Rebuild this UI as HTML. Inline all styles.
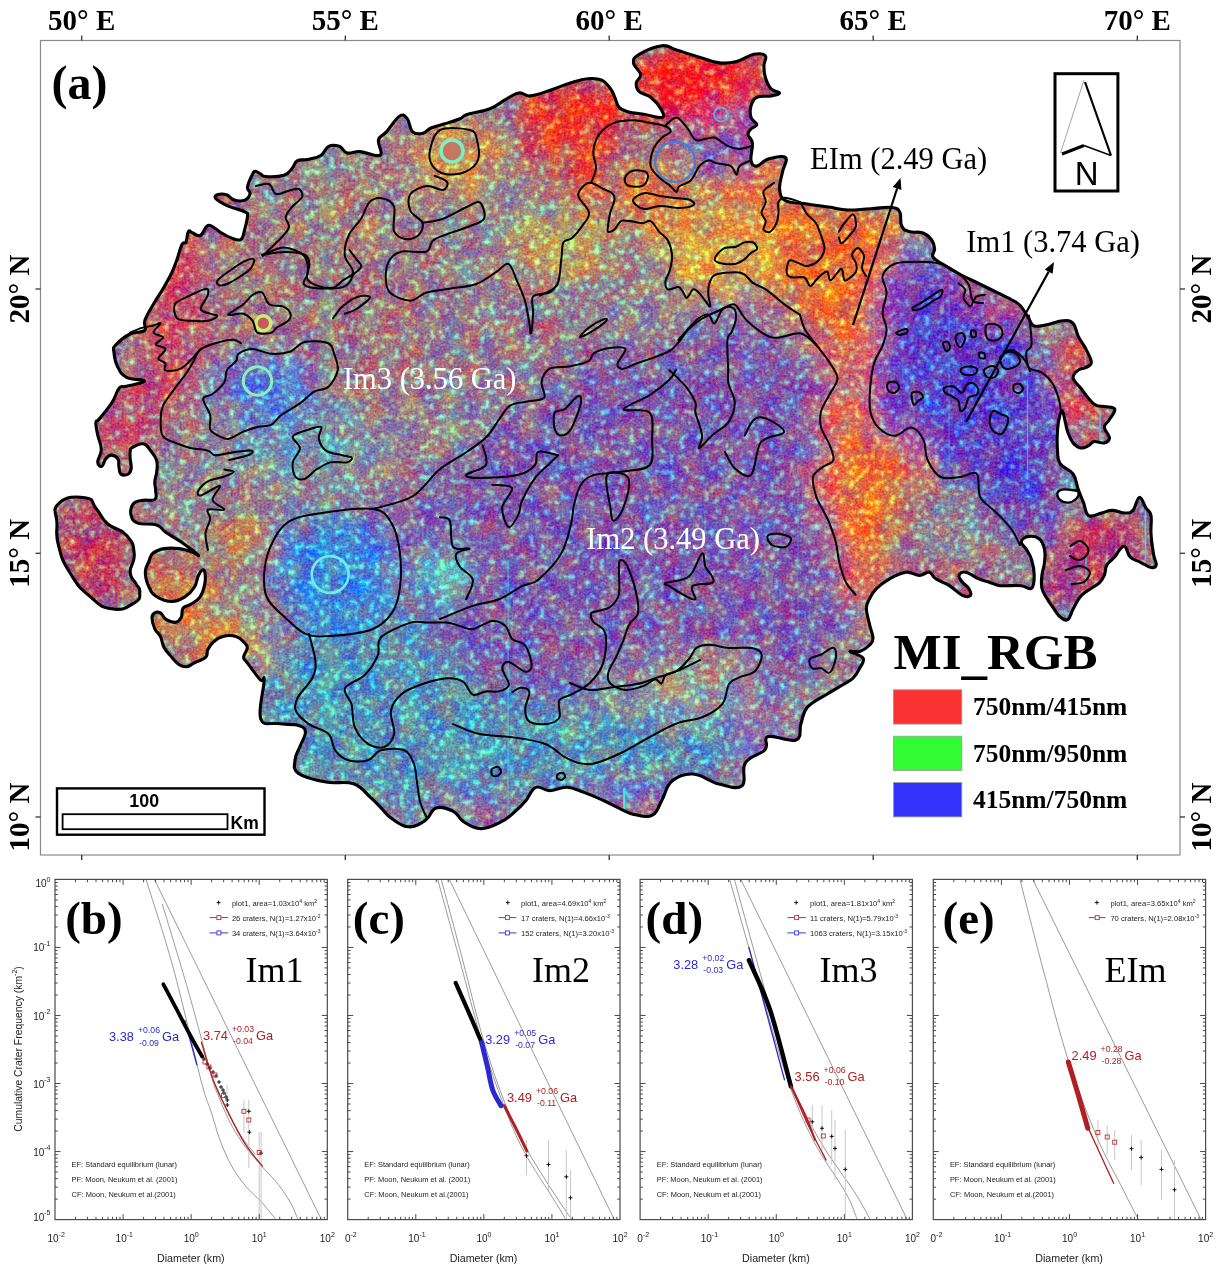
<!DOCTYPE html>
<html><head><meta charset="utf-8"><title>MI RGB map and crater counts</title>
<style>
html,body{margin:0;padding:0;background:#fff;}
body{width:1221px;height:1271px;overflow:hidden;}
svg{display:block;}
.serif{font-family:"Liberation Serif","Times New Roman",serif;}
.sans{font-family:"Liberation Sans",Arial,sans-serif;}
</style></head><body>
<svg width="1221" height="1271" viewBox="0 0 1221 1271">

<defs>
<clipPath id="mare"><path d="M145.0,320.0 C147.0,314.3 151.2,308.0 154.7,302.0 C158.2,296.0 159.0,295.7 162.3,290.0 C165.6,284.3 168.5,279.4 171.4,273.5 C174.3,267.6 174.6,266.2 176.7,260.4 C178.8,254.6 180.1,248.3 181.9,244.6 C183.7,240.9 184.6,244.6 185.9,242.0 C187.2,239.4 187.2,233.3 188.5,231.5 C189.8,229.7 190.0,232.0 192.4,232.8 C194.8,233.6 197.4,236.8 200.3,235.5 C203.2,234.2 204.4,228.1 206.8,226.3 C209.2,224.5 209.2,225.0 212.1,226.3 C215.0,227.6 217.3,230.4 221.2,232.8 C225.1,235.2 227.8,236.8 231.7,238.1 C235.6,239.4 238.3,241.2 240.9,239.4 C243.5,237.6 243.5,233.6 244.8,228.9 C246.1,224.2 247.5,219.2 247.5,215.8 C247.5,212.4 249.0,214.0 244.8,211.9 C240.6,209.8 232.3,207.9 226.5,205.3 C220.7,202.7 217.8,200.9 216.0,198.8 C214.2,196.7 215.2,195.6 217.3,194.8 C219.4,194.0 223.1,193.7 226.5,194.8 C229.9,195.9 230.6,199.0 234.3,200.1 C238.0,201.2 241.6,201.4 244.8,200.1 C248.0,198.8 249.6,196.1 250.1,193.5 C250.6,190.9 247.0,190.9 247.5,187.0 C248.0,183.1 251.1,177.1 252.7,173.9 C254.3,170.7 253.7,171.2 255.3,171.2 C256.9,171.2 258.5,172.8 260.6,173.9 C262.7,175.0 261.1,176.2 265.8,176.5 C270.5,176.8 278.9,176.8 284.1,175.2 C289.3,173.6 289.4,171.5 292.0,168.6 C294.6,165.7 294.1,162.6 297.2,160.8 C300.3,159.0 303.0,160.6 307.7,159.5 C312.4,158.4 316.6,158.1 320.8,155.5 C325.0,152.9 325.0,148.1 328.7,146.3 C332.4,144.5 335.5,145.0 339.2,146.3 C342.9,147.6 342.8,151.8 347.0,152.9 C351.2,154.0 354.3,151.1 360.1,151.6 C365.9,152.1 371.7,155.2 375.9,155.5 C380.1,155.8 380.6,156.0 381.1,152.9 C381.6,149.8 377.4,144.0 378.5,139.8 C379.6,135.6 382.2,136.6 386.4,131.9 C390.6,127.2 395.3,118.8 399.5,116.2 C403.7,113.6 404.7,115.7 407.3,118.8 C409.9,121.9 409.5,129.0 412.6,131.9 C415.7,134.8 419.3,134.0 423.0,133.2 C426.7,132.4 426.7,129.8 430.9,128.0 C435.1,126.2 438.2,125.9 444.0,124.1 C449.8,122.3 455.4,120.7 460.0,118.8 C464.6,116.9 461.2,116.5 467.2,114.5 C473.2,112.5 482.6,111.7 490.1,108.8 C497.6,105.9 498.8,103.4 504.5,100.2 C510.2,97.0 513.6,93.9 518.8,93.0 C524.0,92.1 524.0,96.5 530.3,95.9 C536.6,95.3 542.3,92.8 550.3,90.2 C558.3,87.6 562.9,85.3 570.4,83.0 C577.9,80.7 581.3,79.3 587.6,78.7 C593.9,78.1 597.3,78.1 601.9,80.1 C606.5,82.1 607.9,85.3 610.5,88.7 C613.1,92.1 613.1,93.6 614.8,97.3 C616.5,101.0 616.5,104.5 619.1,107.4 C621.7,110.3 622.5,110.3 627.7,111.7 C632.9,113.1 638.0,113.4 644.9,114.5 C651.8,115.6 658.9,118.5 662.1,117.4 C665.3,116.3 663.0,112.8 660.7,108.8 C658.4,104.8 655.0,100.7 650.7,97.3 C646.4,93.9 642.1,94.5 639.2,91.6 C636.3,88.7 636.0,86.4 636.3,83.0 C636.6,79.6 641.2,78.4 640.6,74.4 C640.0,70.4 633.8,66.9 633.5,62.9 C633.2,58.9 633.5,57.7 639.2,54.3 C644.9,50.9 654.6,46.6 662.1,45.7 C669.6,44.8 669.0,47.7 676.5,50.0 C684.0,52.3 690.8,54.6 699.4,57.2 C708.0,59.8 712.0,62.0 719.4,62.9 C726.8,63.8 729.7,63.2 736.6,61.5 C743.5,59.8 748.1,55.4 753.8,54.3 C759.5,53.2 763.3,53.5 765.3,55.8 C767.3,58.1 763.9,61.5 763.9,65.8 C763.9,70.1 763.9,72.7 765.3,77.3 C766.7,81.9 768.1,85.6 771.0,88.7 C773.9,91.8 779.6,91.6 779.6,93.0 C779.6,94.4 775.6,95.0 771.0,95.9 C766.4,96.8 760.7,95.3 756.7,97.3 C752.7,99.3 752.1,101.9 751.0,105.9 C749.9,109.9 749.9,113.7 751.0,117.4 C752.1,121.1 756.7,122.3 756.7,124.6 C756.7,126.9 752.7,126.9 751.0,128.9 C749.3,130.9 747.8,131.7 748.1,134.6 C748.4,137.5 751.8,138.0 752.4,143.2 C753.0,148.4 750.1,155.8 751.0,160.4 C751.9,165.0 753.3,166.4 756.7,166.1 C760.1,165.8 762.5,160.7 768.2,159.0 C773.9,157.3 782.5,154.9 785.4,157.5 C788.3,160.1 783.7,165.6 782.5,171.9 C781.3,178.2 779.0,183.3 779.6,189.0 C780.2,194.7 780.2,197.5 785.4,200.5 C790.6,203.5 796.9,202.5 805.5,203.8 C814.1,205.1 820.0,205.8 828.5,207.0 C837.0,208.2 839.5,209.7 848.0,210.0 C856.5,210.3 861.2,209.0 871.0,208.7 C880.8,208.4 890.9,205.3 897.0,208.7 C903.1,212.1 899.2,221.1 901.6,225.7 C904.0,230.3 904.5,230.0 908.8,231.5 C913.1,233.0 918.4,231.3 923.0,233.0 C927.6,234.7 929.4,236.9 931.7,240.0 C934.0,243.1 934.3,245.3 934.6,248.7 C934.9,252.1 931.3,253.9 933.0,257.0 C934.7,260.1 937.5,260.9 943.0,264.4 C948.5,267.9 953.5,270.8 960.4,274.5 C967.3,278.2 971.3,279.9 977.6,283.0 C983.9,286.1 985.1,286.6 992.0,290.0 C998.9,293.4 1006.3,296.8 1012.0,300.0 C1017.7,303.2 1017.2,302.2 1020.6,306.0 C1024.0,309.8 1026.3,315.0 1029.0,319.0 C1031.7,323.0 1030.6,324.9 1034.2,326.0 C1037.8,327.1 1041.4,325.7 1047.1,324.7 C1052.8,323.7 1057.5,321.1 1062.7,320.8 C1067.9,320.5 1070.0,320.3 1073.1,323.4 C1076.2,326.5 1075.7,331.2 1078.3,336.4 C1080.9,341.6 1083.5,344.2 1086.1,349.4 C1088.7,354.6 1091.3,358.7 1091.3,362.3 C1091.3,365.9 1088.7,365.9 1086.1,367.5 C1083.5,369.1 1080.9,368.0 1078.3,370.1 C1075.7,372.2 1072.6,374.3 1073.1,377.9 C1073.6,381.5 1076.7,383.1 1080.9,388.3 C1085.1,393.5 1089.2,400.3 1093.9,403.9 C1098.6,407.5 1100.1,405.5 1104.3,406.5 C1108.5,407.5 1113.7,406.5 1114.7,409.1 C1115.7,411.7 1111.6,415.9 1109.5,419.5 C1107.4,423.1 1104.3,423.7 1104.3,427.3 C1104.3,430.9 1109.5,434.6 1109.5,437.7 C1109.5,440.8 1107.4,442.1 1104.3,442.9 C1101.2,443.7 1097.0,441.1 1093.9,441.6 C1090.8,442.1 1091.3,444.2 1088.7,445.5 C1086.1,446.8 1084.0,448.5 1080.9,448.0 C1077.8,447.5 1075.7,446.0 1073.1,442.9 C1070.5,439.8 1069.5,436.7 1067.9,432.5 C1066.3,428.3 1066.3,426.3 1065.3,422.1 C1064.3,417.9 1063.7,413.3 1062.7,411.7 C1061.7,410.1 1061.1,410.7 1060.1,414.3 C1059.1,417.9 1058.0,422.6 1057.5,429.9 C1057.0,437.2 1057.0,443.9 1057.5,450.6 C1058.0,457.3 1057.0,458.9 1060.1,463.6 C1063.2,468.3 1069.5,468.8 1073.1,474.0 C1076.7,479.2 1076.2,483.9 1078.3,489.6 C1080.4,495.3 1081.4,497.4 1083.5,502.6 C1085.6,507.8 1085.1,513.5 1088.7,515.6 C1092.3,517.7 1097.0,514.0 1101.7,513.0 C1106.4,512.0 1107.4,510.4 1112.1,510.4 C1116.8,510.4 1120.9,513.0 1125.1,513.0 C1129.3,513.0 1130.0,513.5 1132.9,510.4 C1135.8,507.3 1136.8,497.9 1139.4,497.4 C1142.0,496.9 1143.5,504.2 1145.8,507.8 C1148.1,511.4 1150.0,510.4 1151.0,515.6 C1152.0,520.8 1150.5,526.0 1151.0,533.8 C1151.5,541.6 1152.6,548.3 1153.6,554.5 C1154.6,560.7 1156.7,562.3 1156.2,564.9 C1155.7,567.5 1154.1,568.0 1151.0,567.5 C1147.9,567.0 1144.7,564.4 1140.6,562.3 C1136.5,560.2 1133.4,560.2 1130.3,557.1 C1127.2,554.0 1127.2,548.3 1125.1,546.8 C1123.0,545.3 1122.0,547.3 1119.9,549.4 C1117.8,551.5 1117.3,554.0 1114.7,557.1 C1112.1,560.2 1109.0,561.3 1106.9,564.9 C1104.8,568.5 1105.9,571.7 1104.3,575.3 C1102.7,578.9 1101.7,580.5 1099.1,583.1 C1096.5,585.7 1094.9,585.7 1091.3,588.3 C1087.7,590.9 1084.5,591.9 1080.9,596.1 C1077.3,600.3 1075.7,604.4 1073.1,609.1 C1070.5,613.8 1070.5,617.9 1067.9,619.5 C1065.3,621.1 1063.2,619.5 1060.1,616.9 C1057.0,614.3 1054.9,610.1 1052.3,606.5 C1049.7,602.9 1049.2,602.3 1047.1,598.7 C1045.0,595.1 1042.9,593.0 1041.9,588.3 C1040.9,583.6 1041.4,580.5 1041.9,575.3 C1042.4,570.1 1044.0,567.5 1044.5,562.3 C1045.0,557.1 1045.5,554.1 1044.5,549.4 C1043.5,544.7 1042.5,541.6 1039.4,539.0 C1036.3,536.4 1032.6,535.9 1029.0,536.4 C1025.4,536.9 1021.7,539.0 1021.2,541.6 C1020.7,544.2 1024.3,545.8 1026.4,549.4 C1028.5,553.0 1030.0,554.5 1031.6,559.7 C1033.2,564.9 1034.2,569.6 1034.2,575.3 C1034.2,581.0 1034.2,586.2 1031.6,588.3 C1029.0,590.4 1026.4,586.2 1021.2,585.7 C1016.0,585.2 1010.1,585.8 1005.6,585.7 C1001.1,585.6 1002.0,586.1 998.6,585.4 C995.2,584.7 992.7,583.3 988.7,582.0 C984.7,580.7 983.4,580.8 978.8,578.8 C974.2,576.8 969.6,572.9 965.6,572.2 C961.6,571.5 959.7,573.5 959.0,575.5 C958.3,577.5 960.3,579.4 962.3,582.0 C964.3,584.6 967.3,586.0 968.9,588.7 C970.5,591.4 971.8,594.0 970.5,595.3 C969.2,596.6 966.6,597.3 962.3,595.3 C958.0,593.3 954.3,588.7 949.0,585.4 C943.7,582.1 939.8,581.4 935.8,578.8 C931.8,576.2 932.5,572.9 929.2,572.2 C925.9,571.5 923.9,575.5 919.3,575.5 C914.7,575.5 911.9,571.5 906.0,572.2 C900.1,572.9 895.5,575.5 889.6,578.8 C883.7,582.1 880.4,584.7 876.4,588.7 C872.4,592.7 871.7,594.6 869.7,598.6 C867.7,602.6 866.4,603.2 866.4,608.5 C866.4,613.8 868.4,619.0 869.7,625.0 C871.0,631.0 873.0,634.3 873.0,638.3 C873.0,642.3 872.3,642.4 869.7,645.0 C867.1,647.6 863.7,650.2 859.8,651.5 C855.9,652.8 849.4,650.2 850.0,651.5 C850.6,652.8 861.0,654.7 863.0,658.0 C865.0,661.3 861.8,664.0 859.8,668.0 C857.8,672.0 856.5,674.7 853.2,678.0 C849.9,681.3 848.5,681.3 843.3,684.5 C838.1,687.7 834.4,689.5 827.3,694.0 C820.2,698.5 812.9,701.1 807.6,707.0 C802.3,712.9 803.3,716.9 801.0,723.5 C798.7,730.1 802.5,737.4 796.0,740.0 C789.5,742.6 774.5,734.7 768.3,736.6 C762.1,738.5 769.6,744.5 765.0,749.7 C760.4,754.9 750.0,755.6 745.4,762.8 C740.8,770.0 747.3,781.5 742.0,785.7 C736.7,789.9 728.8,786.3 719.0,784.0 C709.2,781.7 702.4,774.6 693.0,774.0 C683.6,773.4 678.2,775.8 672.0,781.0 C665.8,786.2 665.8,793.2 662.0,800.0 C658.2,806.8 658.1,811.8 652.8,814.8 C647.5,817.8 642.5,816.2 635.6,814.8 C628.7,813.4 624.6,810.7 618.4,807.9 C612.2,805.1 611.5,804.1 604.6,801.0 C597.7,797.9 591.6,795.1 584.0,792.4 C576.4,789.7 573.7,787.6 566.8,787.3 C559.9,787.0 555.8,790.7 549.6,790.7 C543.4,790.7 540.6,785.2 535.8,787.3 C531.0,789.4 529.6,796.2 525.5,801.0 C521.4,805.8 520.0,807.3 515.2,811.4 C510.4,815.5 508.3,818.3 501.4,821.7 C494.5,825.1 488.4,828.6 480.8,828.6 C473.2,828.6 469.1,825.1 463.6,821.7 C458.1,818.3 458.8,814.2 453.3,811.4 C447.8,808.6 441.6,806.2 436.1,807.9 C430.6,809.6 431.3,816.2 425.8,820.0 C420.3,823.8 415.5,827.2 408.6,826.8 C401.7,826.4 396.9,822.0 391.4,818.2 C385.9,814.4 385.1,812.0 381.0,807.9 C376.9,803.8 376.2,802.4 370.7,797.6 C365.2,792.8 362.4,786.9 353.5,783.8 C344.6,780.7 337.0,784.2 326.0,782.1 C315.0,780.0 304.7,778.0 298.5,773.5 C292.3,769.0 294.7,765.3 295.0,759.8 C295.3,754.3 298.1,751.5 300.2,746.0 C302.3,740.5 305.7,736.3 305.4,732.2 C305.1,728.1 304.0,727.1 298.5,725.4 C293.0,723.7 285.4,725.0 277.8,723.6 C270.2,722.2 263.3,727.1 260.6,718.5 C257.9,709.9 264.1,688.3 264.1,680.6 C264.1,672.9 263.9,683.5 260.5,680.0 C257.1,676.5 250.7,667.5 247.3,662.9 C243.9,658.3 243.6,660.2 243.6,657.2 C243.6,654.2 247.3,650.8 247.3,647.8 C247.3,644.8 245.9,644.3 243.6,642.0 C241.3,639.7 240.2,637.5 236.0,636.4 C231.8,635.3 227.3,635.3 222.8,636.4 C218.3,637.5 216.3,639.3 213.3,642.0 C210.3,644.7 209.2,646.7 207.7,649.7 C206.2,652.7 208.5,654.6 205.8,657.2 C203.1,659.8 198.2,661.0 194.4,662.9 C190.6,664.8 189.9,666.3 186.9,666.7 C183.9,667.1 182.3,666.7 179.3,664.8 C176.3,662.9 174.8,660.6 171.8,657.2 C168.8,653.8 166.5,652.0 164.2,647.8 C161.9,643.6 162.3,640.2 160.4,636.4 C158.5,632.6 156.5,632.7 154.8,628.9 C153.1,625.1 152.0,620.8 152.0,617.6 C152.0,614.4 153.1,613.8 154.8,612.8 C156.5,611.8 158.1,611.5 160.4,612.8 C162.7,614.1 163.1,617.5 166.1,619.4 C169.1,621.3 172.6,622.7 175.6,622.3 C178.6,621.9 179.7,620.4 181.2,617.6 C182.7,614.8 181.2,610.8 183.1,608.1 C185.0,605.4 187.3,606.6 190.7,604.3 C194.1,602.0 197.3,600.9 200.1,596.8 C202.9,592.7 203.9,588.5 204.8,583.6 C205.7,578.7 205.4,574.9 204.8,572.2 C204.2,569.5 203.3,569.5 202.0,570.3 C200.7,571.1 199.7,572.6 198.2,576.0 C196.7,579.4 197.0,583.1 194.4,587.3 C191.8,591.5 189.5,594.0 185.0,596.8 C180.5,599.6 177.5,601.5 171.8,601.5 C166.1,601.5 161.2,599.6 156.7,596.8 C152.2,594.0 151.4,592.2 149.1,587.3 C146.8,582.4 145.3,577.5 145.3,572.2 C145.3,566.9 147.6,564.7 149.1,560.9 C150.6,557.1 149.9,555.8 152.9,553.3 C155.9,550.8 158.9,549.5 164.2,548.6 C169.5,547.7 174.0,548.0 179.3,548.6 C184.6,549.2 186.9,550.2 190.7,551.5 C194.5,552.8 200.1,557.1 198.2,555.2 C196.3,553.3 187.6,546.5 181.2,542.0 C174.8,537.5 171.0,536.0 166.1,532.6 C161.2,529.2 162.4,526.9 156.7,525.0 C151.0,523.1 142.9,525.0 137.8,523.1 C132.7,521.2 132.2,519.4 131.2,515.6 C130.2,511.8 130.9,507.2 133.0,504.2 C135.1,501.2 137.2,501.3 141.6,500.4 C146.0,499.5 152.0,501.4 154.8,499.5 C157.6,497.6 155.7,494.6 155.7,491.0 C155.7,487.4 154.6,485.4 154.8,481.6 C155.0,477.8 156.3,476.3 156.7,472.1 C157.1,467.9 157.8,465.0 156.7,460.8 C155.6,456.6 153.7,454.7 151.0,451.3 C148.3,447.9 147.2,444.5 143.4,443.8 C139.6,443.1 134.7,446.1 132.1,447.6 C129.5,449.1 130.6,449.0 130.2,451.3 C129.8,453.6 130.0,455.5 130.2,458.9 C130.4,462.3 131.6,465.3 131.2,468.3 C130.8,471.3 130.4,472.9 128.3,474.0 C126.2,475.1 122.7,475.5 120.8,474.0 C118.9,472.5 119.5,469.4 118.9,466.4 C118.3,463.4 119.4,461.2 117.9,458.9 C116.4,456.6 113.7,455.1 111.3,455.1 C108.9,455.1 107.6,456.6 105.7,458.9 C103.8,461.2 103.5,465.8 101.9,466.4 C100.3,467.0 97.8,465.4 97.7,462.0 C97.6,458.6 101.3,454.8 101.3,449.4 C101.3,444.0 98.8,440.4 97.7,435.0 C96.6,429.6 95.5,425.6 95.9,422.3 C96.3,419.0 96.3,422.7 99.5,418.7 C102.7,414.7 108.0,408.6 112.0,402.5 C116.0,396.4 116.4,391.2 119.3,388.0 C122.2,384.8 121.5,387.7 126.5,386.3 C131.5,384.9 144.5,382.8 144.5,381.0 C144.5,379.2 131.9,380.2 126.5,377.3 C121.1,374.4 120.0,371.6 117.5,366.5 C115.0,361.4 114.3,356.3 113.9,352.0 C113.5,347.7 112.5,348.6 115.7,345.0 C118.9,341.4 124.2,336.9 130.0,334.0 C135.8,331.1 141.5,333.3 144.5,330.5 C147.5,327.7 143.0,325.7 145.0,320.0 Z"/><path d="M58.8,503.3 C66.3,496.3 75.1,496.2 85.2,497.7 C95.3,499.2 90.5,502.0 96.5,509.0 C102.5,516.0 99.7,517.0 107.8,524.0 C115.9,531.0 119.7,527.3 126.7,535.4 C133.7,543.5 133.3,544.4 134.2,554.2 C135.1,564.0 129.7,564.4 130.2,572.2 C130.7,580.0 133.3,578.3 135.9,583.6 C138.5,588.9 140.3,586.8 139.8,592.0 C139.3,597.2 141.7,598.5 134.2,603.0 C126.7,607.5 123.7,610.8 111.6,608.8 C99.5,606.8 100.1,605.1 89.0,595.6 C77.9,586.1 78.2,586.0 70.1,573.0 C62.0,560.0 62.3,559.8 58.8,546.7 C55.3,533.6 57.0,535.6 57.0,524.0 C57.0,512.4 51.3,510.3 58.8,503.3 Z"/></clipPath>
<filter id="blur" filterUnits="userSpaceOnUse" x="0" y="0" width="1221" height="900"><feGaussianBlur stdDeviation="16"/></filter>
<filter id="blur2" x="-20%" y="-20%" width="140%" height="140%"><feGaussianBlur stdDeviation="10"/></filter>
</defs>

<filter id="noisy" filterUnits="userSpaceOnUse" x="40" y="40" width="1141" height="815" color-interpolation-filters="sRGB">
<feTurbulence type="fractalNoise" baseFrequency="0.45" numOctaves="2" seed="3" result="n0"/><feGaussianBlur in="n0" stdDeviation="0.45" result="n"/>
<feColorMatrix in="n" type="matrix" values="1 0 0 0 0  0 1 0 0 0  -1 0 0 0 1  0 0 0 0 1" result="n1"/>
<feTurbulence type="fractalNoise" baseFrequency="0.05" numOctaves="2" seed="19" result="m0"/>
<feColorMatrix in="m0" type="matrix" values="1 0 0 0 0  0 1 0 0 0  -1 0 0 0 1  0 0 0 0 1" result="m1"/>
<feComposite in="SourceGraphic" in2="m1" operator="arithmetic" k1="0" k2="1" k3="0.45" k4="-0.225" result="s1"/>
<feComposite in="s1" in2="n1" operator="arithmetic" k1="0" k2="1" k3="0.6" k4="-0.3" result="s2"/>
<feTurbulence type="fractalNoise" baseFrequency="0.2" numOctaves="1" seed="7" result="sp0"/>
<feColorMatrix in="sp0" type="matrix" values="0.6 0 0 0 -0.36  9 0 0 0 -5.0  3.2 0 0 0 -1.85  0 0 0 0 1" result="sp1"/>
<feGaussianBlur in="sp1" stdDeviation="0.9" result="sp"/>
<feComposite in="s2" in2="sp" operator="arithmetic" k1="0" k2="1" k3="0.55" k4="0"/>
</filter>
<g clip-path="url(#mare)">
<g filter="url(#noisy)">
<rect x="40" y="40" width="1141" height="815" fill="#967490"/>
<g filter="url(#blur)">
<path d="M373.0,509.0 C375.0,496.8 401.0,503.2 412.0,496.7 C423.0,490.2 430.1,477.3 439.0,470.0 C447.9,462.7 457.6,458.3 465.5,452.8 C473.4,447.3 480.8,442.7 486.5,437.0 C492.2,431.3 495.7,423.9 499.6,418.7 C503.5,413.5 502.6,409.1 510.0,405.6 C517.4,402.1 537.5,403.8 544.1,397.7 C550.7,391.6 542.0,375.0 549.4,368.9 C556.8,362.8 578.7,364.5 588.7,361.0 C598.8,357.5 599.2,348.4 609.7,348.0 C620.2,347.6 639.8,359.7 651.6,358.4 C663.4,357.1 672.1,346.6 680.4,340.0 C688.7,333.4 692.3,324.9 701.4,319.0 C710.5,313.1 723.3,301.7 735.1,304.8 C746.9,307.9 758.4,330.7 772.0,337.5 C785.6,344.3 807.5,341.6 817.0,345.7 C826.5,349.8 825.9,356.6 829.3,362.1 C832.7,367.6 838.9,370.3 837.5,378.5 C836.1,386.7 822.5,400.3 821.1,411.2 C819.7,422.1 830.6,433.0 829.3,444.0 C827.9,455.0 814.1,466.1 813.0,477.0 C811.9,487.9 819.0,498.8 822.8,509.7 C826.6,520.6 832.1,530.4 835.9,542.4 C839.7,554.4 842.5,572.1 845.7,581.7 C848.9,591.3 857.6,588.6 855.0,600.0 C852.4,611.4 840.8,635.0 830.0,650.0 C819.2,665.0 805.0,681.7 790.0,690.0 C775.0,698.3 755.0,705.0 740.0,700.0 C725.0,695.0 716.7,661.7 700.0,660.0 C683.3,658.3 663.3,683.3 640.0,690.0 C616.7,696.7 583.3,700.0 560.0,700.0 C536.7,700.0 520.0,696.7 500.0,690.0 C480.0,683.3 455.0,671.7 440.0,660.0 C425.0,648.3 416.7,635.0 410.0,620.0 C403.3,605.0 406.2,588.5 400.0,570.0 C393.8,551.5 371.0,521.2 373.0,509.0 Z" fill="#8050a8" fill-opacity="1.0"/>
<path d="M300.0,640.0 C323.3,626.7 376.7,598.3 400.0,600.0 C423.3,601.7 423.3,635.0 440.0,650.0 C456.7,665.0 480.0,681.7 500.0,690.0 C520.0,698.3 536.7,700.0 560.0,700.0 C583.3,700.0 616.7,696.7 640.0,690.0 C663.3,683.3 683.3,658.3 700.0,660.0 C716.7,661.7 725.0,693.3 740.0,700.0 C755.0,706.7 780.0,693.3 790.0,700.0 C800.0,706.7 805.0,730.0 800.0,740.0 C795.0,750.0 776.7,753.3 760.0,760.0 C743.3,766.7 720.0,771.7 700.0,780.0 C680.0,788.3 663.3,808.3 640.0,810.0 C616.7,811.7 586.7,786.7 560.0,790.0 C533.3,793.3 503.3,825.0 480.0,830.0 C456.7,835.0 440.0,826.7 420.0,820.0 C400.0,813.3 380.0,798.3 360.0,790.0 C340.0,781.7 316.7,781.7 300.0,770.0 C283.3,758.3 266.7,735.0 260.0,720.0 C253.3,705.0 253.3,693.3 260.0,680.0 C266.7,666.7 276.7,653.3 300.0,640.0 Z" fill="#5a84b4" fill-opacity="1.0"/>
<path d="M760.0,160.0 C773.3,160.0 780.0,191.7 800.0,200.0 C820.0,208.3 863.3,205.0 880.0,210.0 C896.7,215.0 898.3,220.0 900.0,230.0 C901.7,240.0 893.0,256.2 890.0,270.0 C887.0,283.8 884.7,297.7 882.0,313.0 C879.3,328.3 876.0,345.7 874.0,362.0 C872.0,378.3 869.0,399.7 870.0,411.0 C871.0,422.3 873.3,426.8 880.0,430.0 C886.7,433.2 902.5,425.0 910.0,430.0 C917.5,435.0 926.7,445.0 925.0,460.0 C923.3,475.0 907.5,500.0 900.0,520.0 C892.5,540.0 885.0,563.3 880.0,580.0 C875.0,596.7 874.2,616.7 870.0,620.0 C865.8,623.3 859.2,606.5 855.0,600.0 C850.8,593.5 848.2,590.7 845.0,581.0 C841.8,571.3 839.7,553.8 836.0,542.0 C832.3,530.2 826.8,520.8 823.0,510.0 C819.2,499.2 812.0,488.0 813.0,477.0 C814.0,466.0 827.7,455.0 829.0,444.0 C830.3,433.0 819.7,422.0 821.0,411.0 C822.3,400.0 837.7,389.0 837.0,378.0 C836.3,367.0 823.7,355.8 817.0,345.0 C810.3,334.2 807.2,322.5 797.0,313.0 C786.8,303.5 768.3,294.2 756.0,288.0 C743.7,281.8 732.3,280.7 723.0,276.0 C713.7,271.3 700.5,272.7 700.0,260.0 C699.5,247.3 710.0,216.7 720.0,200.0 C730.0,183.3 746.7,160.0 760.0,160.0 Z" fill="#ea6430" fill-opacity="1.0"/>
<path d="M895.0,264.0 C904.7,262.0 927.8,260.7 940.0,264.0 C952.2,267.3 959.7,277.2 968.0,284.0 C976.3,290.8 980.3,298.8 990.0,305.0 C999.7,311.2 1018.7,314.2 1026.0,321.0 C1033.3,327.8 1034.0,338.5 1034.0,346.0 C1034.0,353.5 1024.0,360.7 1026.0,366.0 C1028.0,371.3 1040.7,367.7 1046.0,378.0 C1051.3,388.3 1055.7,412.7 1058.0,428.0 C1060.3,443.3 1063.0,451.3 1060.0,470.0 C1057.0,488.7 1050.0,532.3 1040.0,540.0 C1030.0,547.7 1010.0,523.2 1000.0,516.0 C990.0,508.8 986.7,503.5 980.0,497.0 C973.3,490.5 968.7,483.2 960.0,477.0 C951.3,470.8 934.0,466.2 928.0,460.0 C922.0,453.8 929.5,444.0 924.0,440.0 C918.5,436.0 903.7,440.7 895.0,436.0 C886.3,431.3 876.2,420.3 872.0,412.0 C867.8,403.7 869.7,394.3 870.0,386.0 C870.3,377.7 872.0,374.2 874.0,362.0 C876.0,349.8 880.7,327.3 882.0,313.0 C883.3,298.7 879.8,284.2 882.0,276.0 C884.2,267.8 885.3,266.0 895.0,264.0 Z" fill="#5e36c4" fill-opacity="1.0"/>
<ellipse cx="330" cy="310" rx="140" ry="110" fill="#a26a80" fill-opacity="1.0"/>
<ellipse cx="500" cy="330" rx="90" ry="70" fill="#9a6a8c" fill-opacity="1.0"/>
<ellipse cx="300" cy="440" rx="80" ry="40" fill="#7c86a8" fill-opacity="1.0"/>
<ellipse cx="690" cy="690" rx="60" ry="35" fill="#8c8aa8" fill-opacity="1.0"/>
<ellipse cx="640" cy="800" rx="110" ry="22" fill="#8a5aa8" fill-opacity="1.0"/>
<ellipse cx="470" cy="810" rx="50" ry="20" fill="#8a5aa8" fill-opacity="1.0"/>
<ellipse cx="770" cy="740" rx="35" ry="35" fill="#9a5aa0" fill-opacity="1.0"/>
<ellipse cx="172" cy="300" rx="32" ry="110" fill="#cc3c64" fill-opacity="1.0"/>
<ellipse cx="128" cy="420" rx="32" ry="45" fill="#c83c68" fill-opacity="1.0"/>
<ellipse cx="200" cy="205" rx="40" ry="28" fill="#c84868" fill-opacity="1.0"/>
<ellipse cx="95" cy="552" rx="42" ry="55" fill="#c0305e" fill-opacity="1.0"/>
<ellipse cx="175" cy="600" rx="32" ry="42" fill="#dc6c40" fill-opacity="1.0"/>
<ellipse cx="225" cy="645" rx="32" ry="35" fill="#d0904c" fill-opacity="1.0"/>
<ellipse cx="240" cy="540" rx="22" ry="35" fill="#c8804c" fill-opacity="1.0"/>
<ellipse cx="700" cy="78" rx="70" ry="38" fill="#f41426" fill-opacity="1.0"/>
<ellipse cx="660" cy="100" rx="30" ry="30" fill="#f41628" fill-opacity="1.0"/>
<ellipse cx="725" cy="140" rx="38" ry="28" fill="#8a3ca8" fill-opacity="1.0"/>
<ellipse cx="570" cy="120" rx="55" ry="42" fill="#f42028" fill-opacity="1.0"/>
<ellipse cx="585" cy="170" rx="25" ry="40" fill="#e83a34" fill-opacity="1.0"/>
<ellipse cx="455" cy="160" rx="48" ry="36" fill="#d8864c" fill-opacity="1.0"/>
<ellipse cx="660" cy="200" rx="42" ry="40" fill="#e06a3c" fill-opacity="1.0"/>
<ellipse cx="350" cy="200" rx="48" ry="36" fill="#a87478" fill-opacity="1.0"/>
<ellipse cx="560" cy="245" rx="55" ry="35" fill="#c0985c" fill-opacity="1.0"/>
<ellipse cx="720" cy="255" rx="60" ry="45" fill="#d89848" fill-opacity="1.0"/>
<ellipse cx="1085" cy="385" rx="22" ry="55" fill="#dc3048" fill-opacity="1.0"/>
<ellipse cx="1105" cy="550" rx="45" ry="35" fill="#c02c68" fill-opacity="1.0"/>
<ellipse cx="1070" cy="590" rx="22" ry="25" fill="#b82c6c" fill-opacity="1.0"/>
<ellipse cx="1055" cy="585" rx="20" ry="35" fill="#a83080" fill-opacity="1.0"/>
<ellipse cx="940" cy="585" rx="55" ry="22" fill="#b04a80" fill-opacity="1.0"/>
<ellipse cx="268" cy="388" rx="55" ry="36" fill="#5868d0" fill-opacity="1.0"/>
<ellipse cx="335" cy="575" rx="60" ry="60" fill="#3c74dc" fill-opacity="1.0"/>
<ellipse cx="440" cy="575" rx="24" ry="20" fill="#56d0c4" fill-opacity="1.0"/>
<ellipse cx="690" cy="672" rx="65" ry="16" fill="#b09070" fill-opacity="1.0" transform="rotate(-12 690 672)"/>
<ellipse cx="620" cy="690" rx="40" ry="14" fill="#a08c80" fill-opacity="1.0" transform="rotate(-20 620 690)"/>
<ellipse cx="975" cy="296" rx="38" ry="12" fill="#b03890" fill-opacity="1.0" transform="rotate(25 975 296)"/>
<ellipse cx="1010" cy="318" rx="20" ry="10" fill="#b83880" fill-opacity="1.0" transform="rotate(30 1010 318)"/>
</g>
</g>
<filter id="speck" filterUnits="userSpaceOnUse" x="40" y="40" width="1141" height="815" color-interpolation-filters="sRGB">
<feTurbulence type="fractalNoise" baseFrequency="0.2" numOctaves="2" seed="7" result="n"/>
<feColorMatrix in="n" type="matrix" values="0 0 0 0 0.40  0 0 0 0 0.92  0 0 0 0 0.60  9 0 0 0 -4.9"/>
<feGaussianBlur stdDeviation="0.8"/>
</filter>
<circle cx="330.2" cy="574.5" r="18.4" fill="none" stroke="#6ff0e0" stroke-width="2.6"/>
<circle cx="257.5" cy="381" r="14.2" fill="none" stroke="#90f0b0" stroke-width="3"/>
<circle cx="263.3" cy="323.2" r="7.5" fill="#c85860" stroke="#c8f070" stroke-width="3.5"/>
<circle cx="452" cy="151" r="11" fill="#d07060" stroke="#80f0c0" stroke-width="3.5"/>
<circle cx="675" cy="161.8" r="20" fill="none" stroke="#3a80e0" stroke-width="2.2"/>
<circle cx="720.9" cy="114.5" r="7" fill="none" stroke="#60b0e0" stroke-width="1.8"/>
<g stroke-linecap="butt">
<line x1="508.1" y1="560" x2="508.1" y2="822" stroke="#40d8e8" stroke-width="1.2" stroke-opacity="0.7"/>
<line x1="624.2" y1="788" x2="624.2" y2="812.3" stroke="#40e8f0" stroke-width="2.2"/>
<line x1="1145.5" y1="497" x2="1145.5" y2="560" stroke="#40e0f0" stroke-width="1.6" stroke-opacity="0.9"/>
<line x1="1087" y1="500" x2="1087" y2="520" stroke="#40e0f0" stroke-width="1.4" stroke-opacity="0.8"/>
<line x1="1086" y1="555" x2="1086" y2="585" stroke="#40e0f0" stroke-width="1.4" stroke-opacity="0.8"/>
<line x1="1039" y1="560" x2="1039" y2="590" stroke="#40e0f0" stroke-width="1.4" stroke-opacity="0.8"/>
<line x1="1027.5" y1="380" x2="1027.5" y2="480" stroke="#40e0f0" stroke-width="1.2" stroke-opacity="0.7"/>
<line x1="1085.5" y1="350" x2="1085.5" y2="365" stroke="#40e0f0" stroke-width="1.4" stroke-opacity="0.8"/>
<line x1="1100" y1="410" x2="1100" y2="445" stroke="#40e0f0" stroke-width="1.4" stroke-opacity="0.8"/>
<line x1="949" y1="290" x2="949" y2="600" stroke="#40d8e8" stroke-width="1.1" stroke-opacity="0.45"/>
<line x1="914" y1="380" x2="914" y2="600" stroke="#e0c040" stroke-width="1" stroke-opacity="0.4"/>
<line x1="874" y1="220" x2="874" y2="650" stroke="#e0d040" stroke-width="1" stroke-opacity="0.35"/>
<line x1="798" y1="320" x2="798" y2="720" stroke="#40d8e8" stroke-width="1" stroke-opacity="0.35"/>
<line x1="330" y1="160" x2="330" y2="780" stroke="#50e0b0" stroke-width="1" stroke-opacity="0.25"/>
</g>
<rect x="318" y="40" width="14" height="815" fill="#40e0a0" fill-opacity="0.1"/>
<rect x="450" y="40" width="16" height="815" fill="#40e0a0" fill-opacity="0.08"/>
<rect x="392" y="40" width="12" height="815" fill="#c040a0" fill-opacity="0.08"/>
<rect x="735" y="40" width="18" height="815" fill="#c040c0" fill-opacity="0.1"/>
<rect x="215" y="40" width="14" height="815" fill="#c04080" fill-opacity="0.08"/>
<rect x="900" y="40" width="16" height="815" fill="#8040e0" fill-opacity="0.08"/>
<rect x="560" y="40" width="10" height="815" fill="#40e0a0" fill-opacity="0.07"/>
</g>
<g fill="none" stroke="#000" stroke-width="2.0" stroke-linejoin="round" stroke-linecap="round">
<path d="M774.2,182.8 C772.4,184.2 765.0,188.1 763.6,191.3 C762.2,194.5 766.1,198.4 765.7,202.0 C765.4,205.6 761.5,209.4 761.5,212.6 C761.5,215.8 765.4,218.3 765.7,221.1 C766.1,223.9 762.9,227.8 763.6,229.6 C764.3,231.4 767.9,232.9 770.0,231.8 C772.1,230.7 775.0,226.4 776.4,223.2 C777.8,220.0 778.1,216.1 778.5,212.6 C778.9,209.1 777.4,204.5 778.5,202.0 C779.6,199.5 781.3,197.7 784.9,197.7 C788.5,197.7 797.5,201.3 800.0,202.0"/>
<path d="M678.4,340.0 C681.6,336.5 692.6,323.3 697.6,319.1 C702.6,314.9 705.4,314.1 708.2,314.8 C711.0,315.5 712.1,324.4 714.6,323.3 C717.1,322.2 719.9,310.9 723.1,308.4 C726.3,305.9 731.7,306.6 733.8,308.4 C735.9,310.2 736.2,315.2 735.9,319.1 C735.5,323.0 733.1,328.3 731.7,331.8 C730.3,335.3 728.0,333.6 727.4,340.0 C726.8,346.4 728.1,365.0 728.3,370.0"/>
<path d="M540.0,295.6 C542.8,293.8 553.5,291.0 557.0,285.0 C560.5,279.0 560.2,266.5 561.3,259.4 C562.4,252.3 561.6,245.9 563.4,242.4 C565.2,238.9 568.8,240.9 572.0,238.1 C575.2,235.3 579.8,229.7 582.6,225.4 C585.4,221.2 589.7,217.6 589.0,212.6 C588.3,207.6 579.0,200.2 578.3,195.6 C577.6,191.0 582.6,187.0 584.7,184.9 C586.8,182.8 587.9,182.1 591.1,182.8 C594.3,183.5 600.4,187.4 603.9,189.2 C607.4,191.0 610.6,191.6 612.4,193.4 C614.2,195.2 614.9,196.6 614.5,199.8 C614.1,203.0 611.4,208.3 610.3,212.6 C609.2,216.9 608.5,222.2 608.1,225.4 C607.7,228.6 607.0,231.1 608.1,231.8 C609.2,232.5 612.4,231.4 614.5,229.6 C616.6,227.8 618.4,222.5 620.9,221.1 C623.4,219.7 625.8,220.8 629.4,221.1 C633.0,221.4 638.7,223.2 642.2,223.2 C645.8,223.2 647.9,219.7 650.7,221.1 C653.6,222.5 656.4,228.6 659.3,231.8 C662.1,235.0 665.7,236.4 667.8,240.3 C669.9,244.2 671.6,250.2 672.0,255.2 C672.4,260.2 671.0,265.9 669.9,270.1 C668.8,274.4 666.0,277.5 665.6,280.7 C665.2,283.9 665.7,288.2 667.8,289.3 C669.9,290.4 675.9,286.8 678.4,287.1 C680.9,287.5 681.3,289.6 682.7,291.4 C684.1,293.2 685.1,298.1 686.9,297.8 C688.7,297.5 691.2,290.0 693.3,289.3 C695.4,288.6 697.6,291.4 699.7,293.5 C701.8,295.6 704.3,299.9 706.1,302.0 C707.9,304.1 710.0,307.7 710.4,306.3 C710.8,304.9 708.2,297.8 708.2,293.5 C708.2,289.2 709.0,283.9 710.4,280.7 C711.8,277.5 712.5,275.7 716.7,274.3 C721.0,272.9 731.3,272.2 735.9,272.2 C740.5,272.2 741.5,272.5 744.4,274.3 C747.2,276.1 749.5,280.4 753.0,282.9 C756.5,285.4 761.8,286.8 765.7,289.3 C769.6,291.8 772.9,295.0 776.4,297.8 C779.9,300.6 783.1,303.5 787.0,306.3 C790.9,309.1 797.8,313.4 800.0,314.8"/>
<path d="M958.6,283.3 C959.7,284.4 964.4,287.4 965.2,289.8 C966.0,292.2 962.7,295.3 963.5,298.0 C964.3,300.7 968.5,305.6 970.1,306.2 C971.8,306.8 972.3,302.9 973.4,301.3 C974.5,299.7 974.7,297.5 976.6,296.4 C978.5,295.3 983.4,295.0 984.8,294.7"/>
<path d="M1004.0,352.0 C1005.3,351.7 1009.3,349.5 1012.0,350.0 C1014.7,350.5 1017.7,353.0 1020.0,355.0 C1022.3,357.0 1024.3,359.3 1026.0,362.0 C1027.7,364.7 1029.3,369.5 1030.0,371.0"/>
<path d="M801.5,204.4 C802.5,206.1 804.9,211.3 807.3,214.4 C809.7,217.5 813.5,219.2 815.9,223.0 C818.3,226.8 820.2,233.0 821.6,237.3 C823.0,241.6 825.0,245.0 824.5,248.8 C824.0,252.6 821.6,257.4 818.7,260.3 C815.8,263.2 810.6,265.5 807.3,266.0 C804.0,266.5 801.6,264.1 798.7,263.1 C795.8,262.2 792.0,259.8 790.1,260.3 C788.2,260.8 787.7,263.6 787.2,266.0 C786.7,268.4 786.2,272.7 787.2,274.6 C788.2,276.5 790.0,277.0 792.9,277.5 C795.8,278.0 801.5,276.1 804.4,277.5 C807.3,278.9 808.2,285.6 810.1,286.1 C812.0,286.6 814.0,282.2 815.9,280.3 C817.8,278.4 819.7,276.0 821.6,274.6 C823.5,273.2 825.9,270.8 827.3,271.7 C828.7,272.6 828.8,279.8 830.2,280.3 C831.6,280.8 834.0,276.5 835.9,274.6 C837.8,272.7 840.3,267.9 841.7,268.9 C843.1,269.8 843.1,278.9 844.5,280.3 C845.9,281.7 848.4,278.9 850.3,277.5 C852.2,276.1 855.0,274.1 856.0,271.7 C857.0,269.3 856.7,265.9 856.0,263.1 C855.3,260.3 851.7,257.5 852.0,255.0 C852.3,252.5 856.0,247.8 858.0,248.0 C860.0,248.2 863.3,252.7 864.0,256.0 C864.7,259.3 861.7,264.7 862.0,268.0 C862.3,271.3 865.3,274.7 866.0,276.0"/>
<path d="M838.8,231.6 C839.8,230.2 842.1,225.9 844.5,223.0 C846.9,220.1 851.2,213.9 853.1,214.4 C855.0,214.9 856.5,222.6 856.0,225.9 C855.5,229.2 852.7,231.6 850.3,234.5 C847.9,237.4 843.6,242.6 841.7,243.1 C839.8,243.6 839.3,238.3 838.8,237.3"/>
<path d="M591.1,182.8 C591.9,180.3 595.6,173.2 596.0,168.0 C596.4,162.8 592.8,157.4 593.3,151.8 C593.8,146.2 595.6,139.4 599.0,134.6 C602.4,129.8 607.6,125.5 613.4,123.1 C619.1,120.7 627.3,120.3 633.5,120.3 C639.7,120.3 645.5,122.1 650.7,123.1 C656.0,124.0 661.7,124.6 665.0,126.0 C668.3,127.4 671.2,129.8 670.7,131.7 C670.2,133.6 665.0,134.6 662.1,137.5 C659.2,140.4 655.4,144.1 653.5,148.9 C651.6,153.7 649.7,161.3 650.7,166.1 C651.7,170.9 656.0,174.2 659.3,177.6 C662.6,180.9 667.8,183.8 670.7,186.2 C673.6,188.6 675.1,191.9 676.5,191.9 C677.9,191.9 676.9,188.1 679.3,186.2 C681.7,184.3 687.4,183.8 690.8,180.5 C694.1,177.2 696.5,169.4 699.4,166.1 C702.3,162.8 705.1,160.9 708.0,160.4 C710.9,159.9 712.8,162.4 716.6,163.3 C720.4,164.2 727.6,164.2 730.9,166.1 C734.2,168.0 735.2,174.7 736.6,174.7 C738.0,174.7 737.1,168.5 739.5,166.1 C741.9,163.7 749.1,161.3 751.0,160.4"/>
<path d="M665.0,126.0 C666.9,124.6 672.7,116.9 676.5,117.4 C680.3,117.9 684.6,125.1 687.9,128.9 C691.2,132.7 692.2,138.9 696.5,140.3 C700.8,141.7 708.5,136.5 713.7,137.5 C719.0,138.5 723.7,144.2 728.0,146.1 C732.3,148.0 735.7,148.9 739.5,148.9 C743.3,148.9 749.1,146.6 751.0,146.1"/>
<path d="M373.0,509.0 C379.5,506.9 401.0,503.2 412.0,496.7 C423.0,490.2 430.1,477.3 439.0,470.0 C447.9,462.7 457.6,458.3 465.5,452.8 C473.4,447.3 480.8,442.7 486.5,437.0 C492.2,431.3 495.7,423.9 499.6,418.7 C503.5,413.5 505.6,408.4 510.0,405.6 C514.4,402.8 520.1,403.0 525.8,401.7 C531.5,400.4 541.5,401.0 544.1,397.7 C546.7,394.4 540.6,386.8 541.5,382.0 C542.4,377.2 544.6,371.5 549.4,368.9 C554.2,366.3 563.8,367.6 570.4,366.3 C577.0,365.0 584.8,363.2 588.7,361.0 C592.6,358.8 590.5,355.4 594.0,353.2 C597.5,351.0 604.5,348.7 609.7,348.0 C614.9,347.3 624.1,346.6 625.4,349.2 C626.7,351.8 617.9,360.4 617.5,363.7 C617.1,367.0 619.7,368.9 622.8,368.9 C625.9,368.9 631.1,365.4 635.9,363.7 C640.7,361.9 645.9,360.6 651.6,358.4 C657.3,356.2 665.2,353.7 670.0,350.6 C674.8,347.5 677.4,343.5 680.4,340.0 C683.4,336.5 684.8,333.1 688.3,329.6 C691.8,326.1 695.6,322.5 701.4,319.0 C707.2,315.5 717.3,311.2 722.9,308.8 C728.5,306.4 731.0,302.8 735.1,304.8 C739.2,306.9 741.2,315.7 747.4,321.1 C753.5,326.6 763.1,335.4 772.0,337.5 C780.9,339.6 793.2,332.0 800.7,333.4 C808.2,334.8 814.3,343.6 817.0,345.7"/>
<path d="M800.0,314.8 C800.8,317.2 802.0,324.2 804.8,329.3 C807.6,334.4 812.9,340.2 817.0,345.7 C821.1,351.2 825.9,356.6 829.3,362.1 C832.7,367.6 837.5,373.1 837.5,378.5 C837.5,383.9 832.0,389.4 829.3,394.8 C826.6,400.2 822.5,405.7 821.1,411.2 C819.7,416.7 819.7,422.1 821.1,427.6 C822.5,433.1 827.2,438.6 829.3,444.0 C831.3,449.4 834.5,456.2 833.4,460.0 C832.3,463.8 826.2,464.2 822.8,467.0 C819.4,469.8 814.1,472.1 813.0,477.0 C811.9,481.9 814.6,491.2 816.2,496.6 C817.8,502.1 820.6,505.3 822.8,509.7 C825.0,514.1 827.1,517.3 829.3,522.8 C831.5,528.2 834.2,535.9 835.9,542.4 C837.5,548.9 837.6,555.5 839.2,562.0 C840.8,568.5 843.0,576.2 845.7,581.7 C848.4,587.2 853.9,592.6 855.5,594.8"/>
<path d="M983.0,303.0 C981.3,302.6 975.0,303.8 972.6,300.7 C970.2,297.6 971.2,289.1 968.5,284.3 C965.8,279.5 961.1,275.4 956.3,272.0 C951.5,268.6 946.0,265.5 939.9,263.8 C933.8,262.1 926.9,261.8 919.4,261.8 C911.9,261.8 900.9,261.4 894.8,263.8 C888.7,266.2 884.0,271.3 882.6,276.1 C881.2,280.9 886.6,286.4 886.6,292.5 C886.6,298.6 882.6,306.9 882.6,313.0 C882.6,319.1 886.6,323.9 886.6,329.3 C886.6,334.8 884.6,340.2 882.6,345.7 C880.6,351.2 876.5,355.3 874.4,362.1 C872.3,368.9 871.0,378.4 870.3,386.6 C869.6,394.8 868.9,404.4 870.3,411.2 C871.7,418.0 874.4,423.5 878.5,427.6 C882.6,431.7 889.3,435.8 894.8,435.8 C900.2,435.8 906.4,426.9 911.2,427.6 C916.0,428.3 920.8,434.5 923.5,439.9 C926.2,445.3 924.7,453.8 927.6,460.0 C930.5,466.2 935.2,474.2 940.7,477.0 C946.2,479.8 954.4,477.6 960.4,477.0 C966.4,476.4 973.4,470.3 976.7,473.6 C980.0,476.9 977.3,490.6 980.0,496.6 C982.7,502.6 989.7,506.4 993.0,509.7 C996.3,513.0 996.8,512.8 1000.0,516.2 C1003.2,519.6 1008.7,525.2 1012.0,530.0 C1015.3,534.8 1018.7,542.5 1020.0,545.0"/>
<path d="M1029.0,315.6 C1029.4,320.3 1032.0,337.9 1031.6,344.0 C1031.2,350.1 1026.8,348.1 1026.4,352.0 C1026.0,355.9 1026.4,364.1 1029.0,367.5 C1031.6,370.9 1038.1,370.1 1042.0,372.7 C1045.9,375.3 1049.5,378.8 1052.3,383.1 C1055.1,387.4 1057.3,393.9 1058.8,398.7 C1060.2,403.5 1060.6,409.8 1061.0,412.0"/>
<path d="M1070.5,546.0 C1072.1,545.2 1077.1,540.7 1080.0,541.0 C1082.9,541.3 1087.0,545.5 1088.0,548.0 C1089.0,550.5 1087.7,554.0 1086.0,556.0 C1084.3,558.0 1080.7,560.0 1078.0,560.0 C1075.3,560.0 1071.3,556.7 1070.0,556.0"/>
<path d="M1066.0,570.0 C1068.3,569.3 1076.0,565.7 1080.0,566.0 C1084.0,566.3 1089.3,569.3 1090.0,572.0 C1090.7,574.7 1087.0,580.0 1084.0,582.0 C1081.0,584.0 1074.0,583.7 1072.0,584.0"/>
<path d="M256.0,186.0 C258.2,185.7 265.7,182.7 269.0,184.0 C272.3,185.3 272.7,192.9 276.0,194.0 C279.3,195.1 285.2,191.5 289.0,190.7 C292.8,189.9 296.8,187.9 299.0,189.0 C301.2,190.1 303.2,194.0 302.0,197.0 C300.8,200.0 294.7,203.7 292.0,207.0 C289.3,210.3 286.2,213.7 285.7,217.0 C285.2,220.3 289.6,223.4 289.0,226.7 C288.4,230.0 285.7,232.8 282.4,236.6 C279.1,240.4 272.3,246.5 269.0,249.7 C265.7,252.9 263.8,254.6 262.8,255.6"/>
<path d="M262.8,255.6 C266.2,254.2 276.5,247.4 283.3,247.4 C290.1,247.4 299.7,251.5 303.8,255.6 C307.9,259.7 308.0,267.2 308.0,272.0 C308.0,276.8 301.8,281.6 303.8,284.3 C305.8,287.0 313.4,288.1 320.2,288.4 C327.0,288.7 339.3,289.0 344.8,286.3 C350.3,283.6 353.0,277.1 353.0,272.0 C353.0,266.9 345.5,261.8 344.8,255.6 C344.1,249.4 346.1,241.2 348.8,235.1 C351.5,229.0 357.7,224.2 361.1,218.8 C364.5,213.4 365.9,205.8 369.3,202.4 C372.7,199.0 377.5,197.6 381.6,198.3 C385.7,199.0 391.9,201.1 394.0,206.5 C396.1,211.9 392.0,225.6 394.0,231.0 C396.0,236.4 402.1,238.5 406.2,239.2 C410.3,239.9 415.8,237.8 418.5,235.1 C421.2,232.4 423.9,227.0 422.5,222.9 C421.1,218.8 412.3,215.4 410.3,210.6 C408.3,205.8 407.6,198.3 410.3,194.2 C413.0,190.1 421.2,186.7 426.6,186.0 C432.1,185.3 439.6,190.7 443.0,190.0 C446.4,189.3 448.5,184.3 447.1,181.9 C445.7,179.5 436.9,176.8 434.8,175.8"/>
<path d="M422.5,222.9 C425.9,222.2 435.5,221.5 443.0,218.8 C450.5,216.1 461.5,209.2 467.6,206.5 C473.8,203.8 477.2,200.3 479.9,202.4 C482.6,204.5 486.1,214.7 484.0,218.8 C481.9,222.9 475.8,223.6 467.6,227.0 C459.4,230.4 441.6,235.1 434.8,239.2 C428.0,243.3 432.1,249.4 426.6,251.5 C421.1,253.6 408.1,250.1 402.0,251.5 C395.9,252.9 392.5,255.6 389.8,259.7 C387.1,263.8 385.7,270.6 385.7,276.1 C385.7,281.6 385.7,288.4 389.8,292.5 C393.9,296.6 404.2,300.7 410.3,300.7 C416.4,300.7 419.8,294.6 426.6,292.5 C433.4,290.4 443.0,289.8 451.2,288.4 C459.4,287.0 468.3,287.0 475.8,284.3 C483.3,281.6 490.9,275.4 496.3,272.0 C501.8,268.6 505.1,262.4 508.5,263.8 C511.9,265.2 514.0,274.1 516.7,280.2 C519.5,286.3 523.0,293.9 525.0,300.7 C527.0,307.5 528.0,315.7 529.0,321.1 C530.0,326.6 530.3,334.8 531.0,333.4 C531.7,332.0 532.8,319.1 533.1,313.0 C533.5,306.9 530.4,300.0 533.1,296.6 C535.8,293.2 545.5,294.4 549.5,292.5 C553.5,290.6 555.8,286.2 557.0,285.0"/>
<path d="M240.9,343.2 C239.7,342.6 237.3,339.9 233.8,339.7 C230.3,339.5 225.2,340.4 219.7,342.0 C214.2,343.6 205.1,346.0 200.8,349.1 C196.5,352.2 196.1,357.0 193.7,360.9 C191.3,364.8 190.1,367.6 186.6,372.7 C183.1,377.8 176.4,386.1 172.5,391.6 C168.6,397.1 165.0,401.1 163.0,405.8 C161.0,410.5 160.7,414.8 160.7,419.9 C160.7,425.0 160.2,432.5 163.0,436.4 C165.8,440.3 172.5,441.5 177.2,443.5 C181.9,445.5 186.3,447.0 191.4,448.2 C196.5,449.4 204.0,449.4 207.9,450.6 C211.8,451.8 211.5,454.9 215.0,455.3 C218.5,455.7 223.6,453.8 229.1,453.0 C234.6,452.2 244.1,450.8 248.0,450.6 C251.9,450.4 252.7,451.0 252.7,451.8 C252.7,452.6 251.9,453.9 248.0,455.3 C244.1,456.7 232.2,459.2 229.1,460.0"/>
<path d="M130.0,332.6 C132.0,331.8 137.9,329.1 141.8,327.9 C145.7,326.7 150.4,326.3 153.6,325.5 C156.8,324.7 160.7,322.0 160.7,323.2 C160.7,324.4 153.2,330.2 153.6,332.6 C154.0,335.0 162.6,335.3 163.0,337.3 C163.4,339.3 155.6,342.4 156.0,344.4 C156.4,346.4 165.0,346.7 165.4,349.1 C165.8,351.5 158.3,356.2 158.3,358.6 C158.3,361.0 164.2,361.3 165.4,363.3 C166.6,365.3 162.7,369.6 165.4,370.4 C168.2,371.2 176.0,371.6 181.9,368.0 C187.8,364.4 197.7,352.2 200.8,349.1"/>
<path d="M262.2,254.7 C266.0,254.2 277.9,252.0 285.0,252.0 C292.1,252.0 300.5,252.7 304.6,254.7 C308.7,256.7 309.0,260.3 309.4,264.2 C309.8,268.1 305.8,274.8 307.0,278.3 C308.2,281.8 312.1,283.8 316.4,285.4 C320.7,287.0 328.7,288.6 333.0,287.8 C337.3,287.0 338.9,283.1 342.4,280.7 C345.9,278.3 351.0,276.0 354.2,273.6 C357.4,271.2 360.9,268.9 361.3,266.5 C361.7,264.1 358.5,262.1 356.5,259.4 C354.5,256.6 350.7,251.6 349.5,250.0"/>
<path d="M333.0,318.4 C334.6,316.4 338.5,310.1 342.4,306.6 C346.3,303.1 351.9,298.8 356.5,297.2 C361.1,295.6 370.0,295.2 370.0,297.2 C370.0,299.2 360.7,306.2 356.5,309.0 C352.3,311.8 346.8,312.9 344.8,313.7"/>
<path d="M224.4,469.5 C226.0,469.9 233.8,470.6 233.8,471.8 C233.8,473.0 228.7,474.9 224.4,476.5 C220.1,478.1 212.2,478.9 207.9,481.3 C203.6,483.7 199.6,488.4 198.4,490.7 C197.2,493.0 197.2,496.2 200.8,495.4 C204.4,494.6 217.7,485.2 219.7,486.0 C221.7,486.8 211.8,496.2 212.6,500.1 C213.4,504.0 225.2,508.0 224.4,509.6 C223.6,511.2 210.3,508.0 207.9,509.6 C205.5,511.2 210.6,515.1 210.2,519.0 C209.8,522.9 205.9,528.0 205.5,533.2 C205.1,538.4 207.5,547.2 207.9,550.0"/>
<path d="M309.0,634.0 C310.1,638.6 315.0,654.5 315.5,661.9 C316.0,669.3 315.2,672.3 312.2,678.3 C309.2,684.3 300.2,692.5 297.5,698.0 C294.8,703.5 294.0,706.6 295.9,711.0 C297.8,715.4 303.6,720.3 309.0,724.1 C314.4,727.9 324.2,729.6 328.6,734.0 C333.0,738.4 331.9,745.9 335.2,750.3 C338.5,754.7 342.8,758.6 348.3,760.2 C353.8,761.9 362.6,761.9 368.0,760.2 C373.4,758.6 375.0,751.9 381.0,750.3 C387.0,748.6 398.5,748.1 404.0,750.3 C409.5,752.5 411.6,758.0 413.8,763.5 C416.0,769.0 416.0,776.6 417.1,783.1 C418.2,789.6 418.8,797.0 420.4,802.8 C422.0,808.6 425.8,815.5 426.9,818.0"/>
<path d="M453.1,724.1 C457.5,725.8 469.5,731.8 479.3,734.0 C489.1,736.2 501.2,735.6 512.1,737.2 C523.0,738.8 536.1,740.5 544.8,743.8 C553.5,747.1 558.9,753.7 564.5,756.9 C570.1,760.1 573.4,761.7 578.3,762.8 C583.2,763.9 586.9,765.1 594.0,763.5 C601.1,761.9 611.5,757.5 620.9,753.0 C630.3,748.5 641.1,741.5 650.4,736.6 C659.7,731.7 667.9,726.8 676.6,723.5 C685.3,720.2 695.2,720.3 702.8,717.0 C710.4,713.7 718.0,709.3 722.4,703.8 C726.8,698.3 726.3,688.4 729.0,684.0 C731.7,679.6 734.4,679.8 738.8,677.6 C743.2,675.4 751.4,674.8 755.2,671.0 C759.0,667.2 762.2,658.5 761.7,654.7 C761.2,650.9 757.5,649.1 752.0,648.0 C746.5,646.9 736.1,648.5 729.0,648.0 C721.9,647.5 714.8,644.8 709.3,644.8 C703.8,644.8 699.5,645.8 696.2,648.0 C692.9,650.2 693.0,654.2 689.7,658.0 C686.4,661.8 682.1,667.7 676.6,671.0 C671.1,674.3 663.6,675.4 657.0,677.6 C650.4,679.8 644.9,682.4 637.2,684.0 C629.5,685.6 618.9,686.4 611.0,687.4 C603.1,688.4 596.8,690.7 590.0,690.0 C583.2,689.3 573.3,684.2 570.0,683.0"/>
<path d="M675.9,370.0 C674.8,371.6 673.6,375.6 669.3,379.8 C665.0,384.0 657.6,390.1 650.0,395.0 C642.4,399.9 623.5,406.4 623.5,409.3 C623.5,412.2 645.0,407.5 649.7,412.6 C654.5,417.7 652.0,431.3 652.0,440.0 C652.0,448.7 654.5,459.7 649.7,465.0 C645.0,470.3 632.8,470.0 623.5,471.6 C614.2,473.2 601.1,472.7 594.0,474.9 C586.9,477.1 584.2,479.7 580.9,484.7 C577.6,489.7 575.6,498.4 574.0,505.0 C572.4,511.6 573.1,515.9 571.0,524.0 C568.9,532.1 566.7,544.2 561.2,553.5 C555.8,562.8 544.8,574.2 538.3,579.7 C531.8,585.2 528.4,582.9 521.9,586.2 C515.4,589.5 507.2,596.0 499.0,599.3 C490.8,602.6 482.6,602.6 472.8,605.9 C463.0,609.2 445.5,616.8 440.0,619.0"/>
<path d="M669.3,370.0 C672.0,372.7 681.3,380.9 685.7,386.4 C690.1,391.9 693.9,398.4 695.5,402.8 C697.1,407.2 694.4,407.2 695.5,412.6 C696.6,418.1 701.6,429.5 702.1,435.5 C702.6,441.5 697.2,448.6 698.8,448.6 C700.4,448.6 707.0,439.9 711.9,435.5 C716.8,431.1 724.5,427.8 728.3,422.4 C732.1,416.9 734.8,409.4 734.8,402.8 C734.8,396.2 729.4,388.6 728.3,383.1 C727.2,377.6 728.3,372.2 728.3,370.0"/>
<path d="M512.4,692.0 C513.8,691.3 518.1,687.8 520.9,687.8 C523.7,687.8 528.7,688.5 529.4,692.0 C530.1,695.5 525.2,704.1 525.2,709.1 C525.2,714.1 525.9,719.3 529.4,721.8 C532.9,724.3 541.5,724.7 546.5,724.0 C551.5,723.3 557.2,721.5 559.3,717.6 C561.4,713.7 557.2,704.4 559.3,700.5 C561.4,696.6 567.0,697.0 572.0,694.2 C577.0,691.4 584.1,688.1 589.1,683.5 C594.1,678.9 599.0,672.9 601.8,666.5 C604.6,660.1 605.7,651.2 606.1,645.2 C606.5,639.2 606.1,634.2 604.0,630.3 C601.9,626.4 595.4,624.6 593.3,621.8 C591.2,618.9 590.5,615.0 591.2,613.2 C591.9,611.4 594.4,612.2 597.6,611.1 C600.8,610.0 606.9,609.6 610.4,606.8 C613.9,604.0 617.5,600.8 618.9,594.1 C620.3,587.4 618.5,572.1 618.9,566.4 C619.2,560.7 619.6,560.0 621.0,560.0 C622.4,560.0 624.9,561.1 627.4,566.4 C629.9,571.7 634.1,584.1 635.9,591.9 C637.7,599.7 639.1,607.9 638.0,613.2 C636.9,618.5 632.0,619.3 629.5,623.9 C627.0,628.5 625.2,635.6 623.1,640.9 C621.0,646.2 619.2,650.5 616.7,655.8 C614.2,661.1 609.2,668.3 608.2,672.9 C607.2,677.5 607.5,680.7 610.4,683.5 C613.2,686.3 619.6,689.5 625.3,689.9 C631.0,690.2 639.4,687.4 644.4,685.6 C649.4,683.8 652.2,679.6 655.1,679.3 C658.0,678.9 659.7,684.2 661.5,683.5 C663.3,682.8 662.9,677.1 665.7,675.0 C668.5,672.9 674.2,672.5 678.5,670.7 C682.8,668.9 687.7,666.1 691.3,664.3 C694.9,662.5 698.5,660.8 700.0,660.1"/>
<path d="M482.6,445.3 C483.2,448.6 488.6,460.1 485.9,465.0 C483.2,469.9 467.3,472.6 466.2,474.8 C465.1,477.0 470.6,478.1 479.3,478.1 C488.0,478.1 509.3,477.0 518.6,474.8 C527.9,472.6 531.7,468.8 535.0,465.0 C538.3,461.2 534.5,453.5 538.3,451.9 C542.1,450.3 554.7,454.6 558.0,455.2"/>
<path d="M492.4,484.7 C495.7,485.2 510.4,484.2 512.0,488.0 C513.6,491.8 502.7,501.1 502.2,507.6 C501.7,514.1 506.1,526.1 508.8,527.2 C511.5,528.3 516.4,518.5 518.6,514.1 C520.8,509.7 519.2,507.0 521.9,501.0 C524.6,495.0 530.6,484.1 535.0,478.1 C539.4,472.1 544.3,468.8 548.1,465.0 C551.9,461.2 556.4,456.8 558.0,455.2"/>
<path d="M440.0,517.4 C441.6,518.0 447.6,515.8 449.8,520.7 C452.0,525.6 449.8,542.3 453.1,546.9 C456.4,551.5 468.9,547.4 469.5,548.5 C470.1,549.6 458.0,550.5 456.4,553.5 C454.8,556.5 457.0,562.2 459.7,566.6 C462.4,571.0 471.7,574.2 472.8,579.7 C473.9,585.2 467.3,596.0 466.2,599.3"/>
<path d="M725.0,451.9 C726.6,454.6 730.4,464.5 734.8,468.3 C739.2,472.1 746.8,479.2 751.2,474.8 C755.6,470.4 755.5,449.1 761.0,442.0 C766.5,434.9 782.9,436.0 784.0,432.2 C785.1,428.4 772.5,421.3 767.6,419.1 C762.7,416.9 758.3,416.4 754.5,419.1 C750.7,421.8 746.3,432.8 744.7,435.5"/>
<path d="M809.8,659.2 C811.3,656.9 817.5,656.4 821.3,654.5 C825.1,652.6 830.2,647.7 832.7,647.7 C835.2,647.7 836.1,651.1 836.1,654.5 C836.1,657.9 834.0,665.2 832.7,668.3 C831.4,671.3 830.1,672.8 828.2,672.8 C826.3,672.8 824.0,669.0 821.3,668.3 C818.6,667.5 814.0,669.8 812.1,668.3 C810.2,666.8 808.3,661.5 809.8,659.2 Z"/>
<path d="M714.6,259.4 C714.6,256.9 719.6,250.9 723.1,248.8 C726.6,246.7 732.4,247.8 735.9,246.7 C739.4,245.6 741.5,243.1 744.4,242.4 C747.2,241.7 750.9,241.3 753.0,242.4 C755.1,243.5 757.6,247.0 757.2,248.8 C756.8,250.6 752.9,251.2 750.8,253.0 C748.7,254.8 746.9,257.6 744.4,259.4 C741.9,261.2 739.4,263.0 735.9,263.7 C732.4,264.4 726.6,264.4 723.1,263.7 C719.6,263.0 714.6,261.9 714.6,259.4 Z"/>
<path d="M589.0,327.6 C593.0,324.6 601.1,320.2 603.9,319.1 C606.7,318.0 608.1,319.1 606.0,321.2 C603.9,323.3 595.4,329.2 591.1,331.8 C586.8,334.4 580.4,337.7 580.0,337.0 C579.6,336.3 585.0,330.6 589.0,327.6 Z"/>
<path d="M912.8,307.8 C913.9,306.6 917.2,305.3 921.0,302.9 C924.8,300.4 932.2,295.3 935.7,293.1 C939.2,290.9 941.4,289.2 942.2,289.8 C943.0,290.4 942.2,294.5 940.6,296.4 C939.0,298.3 935.4,299.4 932.4,301.3 C929.4,303.2 925.6,306.3 922.6,307.8 C919.6,309.3 916.0,310.3 914.4,310.3 C912.8,310.3 911.7,309.0 912.8,307.8 Z"/>
<path d="M896.4,332.4 C897.5,331.4 904.4,329.1 906.2,329.1 C908.0,329.1 908.1,331.4 907.0,332.4 C905.9,333.4 901.5,334.9 899.7,334.9 C897.9,334.9 895.3,333.4 896.4,332.4 Z"/>
<path d="M986.0,326.0 C987.1,323.7 991.3,323.7 993.8,324.0 C996.3,324.3 999.6,326.0 1001.0,328.0 C1002.4,330.0 1003.0,333.9 1002.0,336.0 C1001.0,338.1 997.5,340.2 995.0,340.5 C992.5,340.8 988.5,340.4 987.0,338.0 C985.5,335.6 984.9,328.3 986.0,326.0 Z"/>
<path d="M956.0,336.0 C956.8,334.2 960.5,332.5 962.0,333.0 C963.5,333.5 965.2,336.7 965.0,339.0 C964.8,341.3 962.3,346.2 961.0,347.0 C959.7,347.8 957.8,345.8 957.0,344.0 C956.2,342.2 955.2,337.8 956.0,336.0 Z"/>
<path d="M971.0,331.0 C971.5,330.0 974.2,330.2 975.0,331.0 C975.8,331.8 976.5,335.0 976.0,336.0 C975.5,337.0 972.8,337.8 972.0,337.0 C971.2,336.2 970.5,332.0 971.0,331.0 Z"/>
<path d="M943.0,343.0 C943.3,341.5 946.8,341.2 948.0,342.0 C949.2,342.8 950.3,346.5 950.0,348.0 C949.7,349.5 947.2,351.8 946.0,351.0 C944.8,350.2 942.7,344.5 943.0,343.0 Z"/>
<path d="M979.0,353.0 C979.7,352.2 983.0,352.2 984.0,353.0 C985.0,353.8 985.7,357.2 985.0,358.0 C984.3,358.8 981.0,358.8 980.0,358.0 C979.0,357.2 978.3,353.8 979.0,353.0 Z"/>
<path d="M962.0,368.0 C963.5,367.1 967.5,366.3 970.0,366.5 C972.5,366.7 976.2,367.8 977.0,369.0 C977.8,370.2 976.8,373.0 975.0,374.0 C973.2,375.0 968.3,375.3 966.0,375.0 C963.7,374.7 961.7,373.2 961.0,372.0 C960.3,370.8 960.5,368.9 962.0,368.0 Z"/>
<path d="M943.9,388.1 C945.3,387.0 950.7,385.7 953.7,386.5 C956.7,387.3 959.7,393.3 961.9,393.0 C964.1,392.7 964.9,386.4 966.8,384.8 C968.7,383.2 971.5,382.4 973.4,383.2 C975.3,384.0 977.8,387.8 978.3,389.7 C978.8,391.6 978.2,393.3 976.6,394.7 C975.0,396.1 970.4,395.7 968.5,397.9 C966.6,400.1 966.6,405.6 965.2,407.8 C963.8,410.0 961.4,412.1 960.3,411.0 C959.2,409.9 960.0,403.6 958.6,401.2 C957.2,398.8 954.3,397.7 952.1,396.3 C949.9,394.9 946.9,394.4 945.5,393.0 C944.1,391.6 942.5,389.2 943.9,388.1 Z"/>
<path d="M993.0,411.0 C994.9,409.9 998.7,413.2 1001.2,414.3 C1003.7,415.4 1007.0,415.4 1007.8,417.6 C1008.6,419.8 1007.2,424.7 1006.1,427.4 C1005.0,430.1 1003.4,433.4 1001.2,434.0 C999.0,434.6 994.9,432.9 993.0,430.7 C991.1,428.5 989.7,424.2 989.7,420.9 C989.7,417.6 991.1,412.1 993.0,411.0 Z"/>
<path d="M1014.0,385.0 C1015.0,383.8 1018.5,383.3 1020.0,384.0 C1021.5,384.7 1023.2,387.5 1023.0,389.0 C1022.8,390.5 1020.5,392.7 1019.0,393.0 C1017.5,393.3 1014.8,392.3 1014.0,391.0 C1013.2,389.7 1013.0,386.2 1014.0,385.0 Z"/>
<path d="M888.0,383.0 C889.3,381.7 894.2,381.2 896.0,382.0 C897.8,382.8 899.3,386.2 899.0,388.0 C898.7,389.8 895.8,392.7 894.0,393.0 C892.2,393.3 889.0,391.7 888.0,390.0 C887.0,388.3 886.7,384.3 888.0,383.0 Z"/>
<path d="M912.0,393.0 C913.2,391.8 917.2,391.3 919.0,392.0 C920.8,392.7 923.2,395.5 923.0,397.0 C922.8,398.5 919.5,399.7 918.0,401.0 C916.5,402.3 915.0,405.3 914.0,405.0 C913.0,404.7 912.3,401.0 912.0,399.0 C911.7,397.0 910.8,394.2 912.0,393.0 Z"/>
<path d="M1000.0,358.0 C1000.7,355.3 1005.3,352.7 1008.0,352.0 C1010.7,351.3 1014.0,352.3 1016.0,354.0 C1018.0,355.7 1020.7,359.7 1020.0,362.0 C1019.3,364.3 1014.7,367.0 1012.0,368.0 C1009.3,369.0 1006.0,369.7 1004.0,368.0 C1002.0,366.3 999.3,360.7 1000.0,358.0 Z"/>
<path d="M984.0,370.0 C984.8,368.2 989.7,366.0 992.0,366.0 C994.3,366.0 997.5,368.2 998.0,370.0 C998.5,371.8 996.8,375.8 995.0,377.0 C993.2,378.2 988.8,378.2 987.0,377.0 C985.2,375.8 983.2,371.8 984.0,370.0 Z"/>
<path d="M492.0,769.0 C493.0,767.7 496.5,766.5 498.0,767.0 C499.5,767.5 501.2,770.5 501.0,772.0 C500.8,773.5 498.5,775.5 497.0,776.0 C495.5,776.5 492.8,776.2 492.0,775.0 C491.2,773.8 491.0,770.3 492.0,769.0 Z"/>
<path d="M558.0,774.0 C559.0,773.2 561.8,772.5 563.0,773.0 C564.2,773.5 565.3,775.8 565.0,777.0 C564.7,778.2 562.3,779.8 561.0,780.0 C559.7,780.2 557.5,779.0 557.0,778.0 C556.5,777.0 557.0,774.8 558.0,774.0 Z"/>
<path d="M624.9,178.0 C625.6,175.6 628.6,172.1 632.0,171.0 C635.4,169.9 642.4,170.3 645.0,171.5 C647.6,172.7 648.3,175.6 647.8,178.0 C647.3,180.4 645.3,184.8 642.0,186.0 C638.7,187.2 630.9,186.8 628.0,185.5 C625.1,184.2 624.2,180.4 624.9,178.0 Z"/>
<path d="M633.5,199.0 C635.0,197.0 640.6,193.5 645.0,193.0 C649.4,192.5 655.0,195.2 660.0,196.0 C665.0,196.8 670.0,197.3 675.0,198.0 C680.0,198.7 686.9,198.8 690.0,200.0 C693.1,201.2 695.4,203.7 693.7,205.0 C692.0,206.3 685.6,207.8 680.0,208.0 C674.4,208.2 665.8,205.8 660.0,206.0 C654.2,206.2 649.0,209.2 645.0,209.0 C641.0,208.8 637.9,206.7 636.0,205.0 C634.1,203.3 632.0,201.0 633.5,199.0 Z"/>
<path d="M607.0,474.9 C604.0,479.8 609.3,500.0 610.4,507.6 C611.5,515.2 611.4,520.7 613.6,520.7 C615.8,520.7 621.0,514.7 623.5,507.6 C626.0,500.5 631.1,483.6 628.4,478.1 C625.6,472.7 610.0,470.0 607.0,474.9 Z"/>
<path d="M666.0,583.0 C669.3,581.4 683.0,581.3 689.0,576.4 C695.0,571.5 699.3,555.1 702.0,553.5 C704.7,551.9 703.7,562.8 705.4,566.6 C707.1,570.4 710.9,573.7 712.0,576.4 C713.1,579.1 715.3,581.4 712.0,583.0 C708.7,584.6 695.0,583.5 692.3,586.2 C689.5,588.9 696.6,597.7 695.5,599.3 C694.4,600.9 690.1,598.2 685.7,596.0 C681.3,593.8 672.6,588.4 669.3,586.2 C666.0,584.0 662.7,584.6 666.0,583.0 Z"/>
<path d="M554.7,412.6 C556.3,409.3 560.7,412.0 564.5,409.3 C568.3,406.6 574.9,397.3 577.6,396.2 C580.3,395.1 582.0,397.3 580.9,402.8 C579.8,408.3 574.3,423.6 571.0,429.0 C567.7,434.4 563.9,435.5 561.2,435.5 C558.5,435.5 555.8,432.8 554.7,429.0 C553.6,425.2 553.1,415.9 554.7,412.6 Z"/>
<path d="M767.6,536.0 C768.6,534.1 774.1,533.5 778.0,533.8 C781.9,534.1 789.4,535.8 790.7,538.0 C792.0,540.2 789.1,545.7 786.0,546.9 C782.9,548.1 775.1,546.8 772.0,545.0 C768.9,543.2 766.6,537.9 767.6,536.0 Z"/>
<path d="M272.8,541.7 C276.9,533.9 281.0,526.1 289.2,521.3 C297.4,516.5 308.0,515.0 322.0,513.0 C336.0,510.9 361.6,507.3 373.2,509.0 C384.8,510.7 387.2,516.1 391.6,523.3 C396.0,530.5 398.4,541.1 399.8,552.0 C401.2,562.9 401.2,578.6 399.8,588.8 C398.4,599.0 396.4,606.6 391.6,613.4 C386.8,620.2 381.3,626.0 371.1,629.8 C360.9,633.6 341.1,635.3 330.2,636.0 C319.3,636.7 313.1,637.0 305.6,633.9 C298.1,630.8 291.6,623.6 285.1,617.5 C278.6,611.4 270.1,605.2 266.7,597.0 C263.3,588.8 263.7,577.6 264.7,568.4 C265.7,559.2 268.7,549.6 272.8,541.7 Z"/>
<path d="M238.6,353.8 C241.3,351.8 247.2,349.1 252.7,349.1 C258.2,349.1 265.3,353.4 271.6,353.8 C277.9,354.2 285.0,353.5 290.5,351.5 C296.0,349.5 298.3,343.4 304.6,342.0 C310.9,340.6 323.3,341.2 328.2,343.2 C333.1,345.2 332.5,349.3 334.1,353.8 C335.7,358.3 338.7,364.9 337.7,370.4 C336.7,375.9 332.1,383.4 328.2,386.9 C324.3,390.4 318.8,388.9 314.1,391.6 C309.4,394.4 305.4,399.5 299.9,403.4 C294.4,407.3 285.7,411.7 281.0,415.2 C276.3,418.7 275.5,422.6 271.6,424.6 C267.7,426.6 262.1,425.8 257.4,427.0 C252.7,428.2 248.0,429.7 243.3,431.7 C238.6,433.7 233.0,438.0 229.1,438.8 C225.2,439.6 222.8,438.0 219.7,436.4 C216.5,434.8 211.8,432.9 210.2,429.4 C208.6,425.9 211.4,420.3 210.2,415.2 C209.0,410.1 202.8,402.2 203.2,398.7 C203.6,395.2 209.1,396.8 212.6,394.0 C216.1,391.2 222.0,386.1 224.4,382.2 C226.8,378.3 224.8,373.9 226.8,370.4 C228.8,366.8 234.2,363.7 236.2,360.9 C238.2,358.1 235.8,355.8 238.6,353.8 Z"/>
<path d="M292.8,436.4 C294.4,433.3 304.7,431.0 309.4,429.4 C314.1,427.8 319.6,425.4 321.2,427.0 C322.8,428.6 318.0,434.9 318.8,438.8 C319.6,442.7 322.0,447.9 325.9,450.6 C329.8,453.4 338.1,454.1 342.4,455.3 C346.7,456.5 351.0,456.5 351.8,457.7 C352.6,458.9 350.6,461.6 347.1,462.4 C343.6,463.2 335.7,461.2 330.6,462.4 C325.5,463.6 320.7,466.8 316.4,469.5 C312.1,472.2 308.1,477.7 304.6,478.9 C301.1,480.1 297.2,479.2 295.2,476.5 C293.2,473.8 292.0,467.1 292.8,462.4 C293.6,457.7 299.9,452.5 299.9,448.2 C299.9,443.9 291.2,439.5 292.8,436.4 Z"/>
<path d="M174.8,304.3 C176.4,300.8 181.5,299.8 186.6,297.2 C191.7,294.6 201.9,289.3 205.5,288.9 C209.1,288.5 208.7,291.4 207.9,294.8 C207.1,298.2 200.4,305.9 200.8,309.0 C201.2,312.1 207.4,312.5 210.2,313.7 C212.9,314.9 217.7,314.9 217.3,316.1 C216.9,317.3 212.2,320.0 207.9,320.8 C203.6,321.6 196.5,321.2 191.4,320.8 C186.3,320.4 180.0,321.1 177.2,318.4 C174.4,315.6 173.2,307.8 174.8,304.3 Z"/>
<path d="M217.3,280.7 C218.9,278.3 224.8,274.3 229.1,271.2 C233.4,268.1 239.2,263.8 243.3,261.8 C247.4,259.8 252.7,258.2 253.9,259.4 C255.1,260.6 252.6,266.1 250.4,268.9 C248.2,271.7 244.5,273.6 240.9,276.0 C237.3,278.4 232.6,281.4 229.1,283.0 C225.6,284.6 221.7,285.8 219.7,285.4 C217.7,285.0 215.7,283.1 217.3,280.7 Z"/>
<path d="M229.1,313.7 C231.1,311.9 239.4,307.4 243.3,304.3 C247.2,301.2 249.5,296.8 252.7,294.8 C255.8,292.8 259.4,290.9 262.2,292.5 C264.9,294.1 265.7,301.9 269.2,304.3 C272.7,306.7 279.8,305.0 283.4,306.6 C286.9,308.2 289.7,311.3 290.5,313.7 C291.3,316.1 290.5,318.4 288.1,320.8 C285.7,323.2 279.1,325.9 276.3,327.9 C273.6,329.9 274.8,331.8 271.6,332.6 C268.5,333.4 260.5,334.6 257.4,332.6 C254.2,330.6 255.0,324.0 252.7,320.8 C250.3,317.6 246.8,314.7 243.3,313.7 C239.8,312.7 233.9,314.9 231.5,314.9 C229.1,314.9 227.1,315.5 229.1,313.7 Z"/>
<path d="M426.9,622.6 C420.9,622.6 418.1,620.2 410.5,622.6 C402.9,625.0 386.4,631.8 381.0,637.3 C375.6,642.8 380.5,649.0 377.8,655.3 C375.1,661.6 370.2,669.5 364.7,675.0 C359.2,680.5 347.2,683.2 345.0,688.1 C342.8,693.0 350.0,698.0 351.6,704.5 C353.2,711.0 352.1,720.9 354.8,727.4 C357.5,733.9 363.1,740.5 368.0,743.8 C372.9,747.1 379.9,748.6 384.3,747.0 C388.7,745.4 393.0,740.0 394.1,734.0 C395.2,728.0 389.8,717.5 390.9,711.0 C392.0,704.5 395.8,699.1 400.7,694.7 C405.6,690.3 412.8,687.5 420.4,684.8 C428.0,682.1 439.5,678.8 446.6,678.3 C453.7,677.8 458.6,678.9 463.0,681.6 C467.4,684.3 469.0,693.1 472.8,694.7 C476.6,696.3 481.5,692.0 485.9,691.4 C490.3,690.8 495.2,692.5 499.0,691.4 C502.8,690.3 508.2,688.6 508.8,684.8 C509.4,681.0 502.3,672.3 502.3,668.5 C502.3,664.7 505.0,661.4 508.8,661.9 C512.6,662.4 521.4,671.2 525.2,671.7 C529.0,672.2 531.7,669.6 531.7,665.2 C531.7,660.8 528.5,649.9 525.2,645.5 C521.9,641.1 515.4,642.3 512.1,639.0 C508.8,635.7 508.8,628.9 505.5,625.9 C502.2,622.9 497.8,620.5 492.4,621.0 C486.9,621.5 478.2,628.3 472.8,629.1 C467.4,629.9 464.1,627.0 459.7,625.9 C455.3,624.8 452.1,623.1 446.6,622.6 C441.1,622.1 432.9,622.6 426.9,622.6 Z"/>
<path d="M430.0,150.0 C431.3,144.2 433.3,133.3 440.0,130.0 C446.7,126.7 463.8,128.3 470.0,130.0 C476.2,131.7 475.7,135.0 477.0,140.0 C478.3,145.0 480.0,154.7 478.0,160.0 C476.0,165.3 470.5,169.7 465.0,172.0 C459.5,174.3 450.5,175.2 445.0,174.0 C439.5,172.8 434.5,169.0 432.0,165.0 C429.5,161.0 428.7,155.8 430.0,150.0 Z"/>
</g>
<path d="M145.0,320.0 C147.0,314.3 151.2,308.0 154.7,302.0 C158.2,296.0 159.0,295.7 162.3,290.0 C165.6,284.3 168.5,279.4 171.4,273.5 C174.3,267.6 174.6,266.2 176.7,260.4 C178.8,254.6 180.1,248.3 181.9,244.6 C183.7,240.9 184.6,244.6 185.9,242.0 C187.2,239.4 187.2,233.3 188.5,231.5 C189.8,229.7 190.0,232.0 192.4,232.8 C194.8,233.6 197.4,236.8 200.3,235.5 C203.2,234.2 204.4,228.1 206.8,226.3 C209.2,224.5 209.2,225.0 212.1,226.3 C215.0,227.6 217.3,230.4 221.2,232.8 C225.1,235.2 227.8,236.8 231.7,238.1 C235.6,239.4 238.3,241.2 240.9,239.4 C243.5,237.6 243.5,233.6 244.8,228.9 C246.1,224.2 247.5,219.2 247.5,215.8 C247.5,212.4 249.0,214.0 244.8,211.9 C240.6,209.8 232.3,207.9 226.5,205.3 C220.7,202.7 217.8,200.9 216.0,198.8 C214.2,196.7 215.2,195.6 217.3,194.8 C219.4,194.0 223.1,193.7 226.5,194.8 C229.9,195.9 230.6,199.0 234.3,200.1 C238.0,201.2 241.6,201.4 244.8,200.1 C248.0,198.8 249.6,196.1 250.1,193.5 C250.6,190.9 247.0,190.9 247.5,187.0 C248.0,183.1 251.1,177.1 252.7,173.9 C254.3,170.7 253.7,171.2 255.3,171.2 C256.9,171.2 258.5,172.8 260.6,173.9 C262.7,175.0 261.1,176.2 265.8,176.5 C270.5,176.8 278.9,176.8 284.1,175.2 C289.3,173.6 289.4,171.5 292.0,168.6 C294.6,165.7 294.1,162.6 297.2,160.8 C300.3,159.0 303.0,160.6 307.7,159.5 C312.4,158.4 316.6,158.1 320.8,155.5 C325.0,152.9 325.0,148.1 328.7,146.3 C332.4,144.5 335.5,145.0 339.2,146.3 C342.9,147.6 342.8,151.8 347.0,152.9 C351.2,154.0 354.3,151.1 360.1,151.6 C365.9,152.1 371.7,155.2 375.9,155.5 C380.1,155.8 380.6,156.0 381.1,152.9 C381.6,149.8 377.4,144.0 378.5,139.8 C379.6,135.6 382.2,136.6 386.4,131.9 C390.6,127.2 395.3,118.8 399.5,116.2 C403.7,113.6 404.7,115.7 407.3,118.8 C409.9,121.9 409.5,129.0 412.6,131.9 C415.7,134.8 419.3,134.0 423.0,133.2 C426.7,132.4 426.7,129.8 430.9,128.0 C435.1,126.2 438.2,125.9 444.0,124.1 C449.8,122.3 455.4,120.7 460.0,118.8 C464.6,116.9 461.2,116.5 467.2,114.5 C473.2,112.5 482.6,111.7 490.1,108.8 C497.6,105.9 498.8,103.4 504.5,100.2 C510.2,97.0 513.6,93.9 518.8,93.0 C524.0,92.1 524.0,96.5 530.3,95.9 C536.6,95.3 542.3,92.8 550.3,90.2 C558.3,87.6 562.9,85.3 570.4,83.0 C577.9,80.7 581.3,79.3 587.6,78.7 C593.9,78.1 597.3,78.1 601.9,80.1 C606.5,82.1 607.9,85.3 610.5,88.7 C613.1,92.1 613.1,93.6 614.8,97.3 C616.5,101.0 616.5,104.5 619.1,107.4 C621.7,110.3 622.5,110.3 627.7,111.7 C632.9,113.1 638.0,113.4 644.9,114.5 C651.8,115.6 658.9,118.5 662.1,117.4 C665.3,116.3 663.0,112.8 660.7,108.8 C658.4,104.8 655.0,100.7 650.7,97.3 C646.4,93.9 642.1,94.5 639.2,91.6 C636.3,88.7 636.0,86.4 636.3,83.0 C636.6,79.6 641.2,78.4 640.6,74.4 C640.0,70.4 633.8,66.9 633.5,62.9 C633.2,58.9 633.5,57.7 639.2,54.3 C644.9,50.9 654.6,46.6 662.1,45.7 C669.6,44.8 669.0,47.7 676.5,50.0 C684.0,52.3 690.8,54.6 699.4,57.2 C708.0,59.8 712.0,62.0 719.4,62.9 C726.8,63.8 729.7,63.2 736.6,61.5 C743.5,59.8 748.1,55.4 753.8,54.3 C759.5,53.2 763.3,53.5 765.3,55.8 C767.3,58.1 763.9,61.5 763.9,65.8 C763.9,70.1 763.9,72.7 765.3,77.3 C766.7,81.9 768.1,85.6 771.0,88.7 C773.9,91.8 779.6,91.6 779.6,93.0 C779.6,94.4 775.6,95.0 771.0,95.9 C766.4,96.8 760.7,95.3 756.7,97.3 C752.7,99.3 752.1,101.9 751.0,105.9 C749.9,109.9 749.9,113.7 751.0,117.4 C752.1,121.1 756.7,122.3 756.7,124.6 C756.7,126.9 752.7,126.9 751.0,128.9 C749.3,130.9 747.8,131.7 748.1,134.6 C748.4,137.5 751.8,138.0 752.4,143.2 C753.0,148.4 750.1,155.8 751.0,160.4 C751.9,165.0 753.3,166.4 756.7,166.1 C760.1,165.8 762.5,160.7 768.2,159.0 C773.9,157.3 782.5,154.9 785.4,157.5 C788.3,160.1 783.7,165.6 782.5,171.9 C781.3,178.2 779.0,183.3 779.6,189.0 C780.2,194.7 780.2,197.5 785.4,200.5 C790.6,203.5 796.9,202.5 805.5,203.8 C814.1,205.1 820.0,205.8 828.5,207.0 C837.0,208.2 839.5,209.7 848.0,210.0 C856.5,210.3 861.2,209.0 871.0,208.7 C880.8,208.4 890.9,205.3 897.0,208.7 C903.1,212.1 899.2,221.1 901.6,225.7 C904.0,230.3 904.5,230.0 908.8,231.5 C913.1,233.0 918.4,231.3 923.0,233.0 C927.6,234.7 929.4,236.9 931.7,240.0 C934.0,243.1 934.3,245.3 934.6,248.7 C934.9,252.1 931.3,253.9 933.0,257.0 C934.7,260.1 937.5,260.9 943.0,264.4 C948.5,267.9 953.5,270.8 960.4,274.5 C967.3,278.2 971.3,279.9 977.6,283.0 C983.9,286.1 985.1,286.6 992.0,290.0 C998.9,293.4 1006.3,296.8 1012.0,300.0 C1017.7,303.2 1017.2,302.2 1020.6,306.0 C1024.0,309.8 1026.3,315.0 1029.0,319.0 C1031.7,323.0 1030.6,324.9 1034.2,326.0 C1037.8,327.1 1041.4,325.7 1047.1,324.7 C1052.8,323.7 1057.5,321.1 1062.7,320.8 C1067.9,320.5 1070.0,320.3 1073.1,323.4 C1076.2,326.5 1075.7,331.2 1078.3,336.4 C1080.9,341.6 1083.5,344.2 1086.1,349.4 C1088.7,354.6 1091.3,358.7 1091.3,362.3 C1091.3,365.9 1088.7,365.9 1086.1,367.5 C1083.5,369.1 1080.9,368.0 1078.3,370.1 C1075.7,372.2 1072.6,374.3 1073.1,377.9 C1073.6,381.5 1076.7,383.1 1080.9,388.3 C1085.1,393.5 1089.2,400.3 1093.9,403.9 C1098.6,407.5 1100.1,405.5 1104.3,406.5 C1108.5,407.5 1113.7,406.5 1114.7,409.1 C1115.7,411.7 1111.6,415.9 1109.5,419.5 C1107.4,423.1 1104.3,423.7 1104.3,427.3 C1104.3,430.9 1109.5,434.6 1109.5,437.7 C1109.5,440.8 1107.4,442.1 1104.3,442.9 C1101.2,443.7 1097.0,441.1 1093.9,441.6 C1090.8,442.1 1091.3,444.2 1088.7,445.5 C1086.1,446.8 1084.0,448.5 1080.9,448.0 C1077.8,447.5 1075.7,446.0 1073.1,442.9 C1070.5,439.8 1069.5,436.7 1067.9,432.5 C1066.3,428.3 1066.3,426.3 1065.3,422.1 C1064.3,417.9 1063.7,413.3 1062.7,411.7 C1061.7,410.1 1061.1,410.7 1060.1,414.3 C1059.1,417.9 1058.0,422.6 1057.5,429.9 C1057.0,437.2 1057.0,443.9 1057.5,450.6 C1058.0,457.3 1057.0,458.9 1060.1,463.6 C1063.2,468.3 1069.5,468.8 1073.1,474.0 C1076.7,479.2 1076.2,483.9 1078.3,489.6 C1080.4,495.3 1081.4,497.4 1083.5,502.6 C1085.6,507.8 1085.1,513.5 1088.7,515.6 C1092.3,517.7 1097.0,514.0 1101.7,513.0 C1106.4,512.0 1107.4,510.4 1112.1,510.4 C1116.8,510.4 1120.9,513.0 1125.1,513.0 C1129.3,513.0 1130.0,513.5 1132.9,510.4 C1135.8,507.3 1136.8,497.9 1139.4,497.4 C1142.0,496.9 1143.5,504.2 1145.8,507.8 C1148.1,511.4 1150.0,510.4 1151.0,515.6 C1152.0,520.8 1150.5,526.0 1151.0,533.8 C1151.5,541.6 1152.6,548.3 1153.6,554.5 C1154.6,560.7 1156.7,562.3 1156.2,564.9 C1155.7,567.5 1154.1,568.0 1151.0,567.5 C1147.9,567.0 1144.7,564.4 1140.6,562.3 C1136.5,560.2 1133.4,560.2 1130.3,557.1 C1127.2,554.0 1127.2,548.3 1125.1,546.8 C1123.0,545.3 1122.0,547.3 1119.9,549.4 C1117.8,551.5 1117.3,554.0 1114.7,557.1 C1112.1,560.2 1109.0,561.3 1106.9,564.9 C1104.8,568.5 1105.9,571.7 1104.3,575.3 C1102.7,578.9 1101.7,580.5 1099.1,583.1 C1096.5,585.7 1094.9,585.7 1091.3,588.3 C1087.7,590.9 1084.5,591.9 1080.9,596.1 C1077.3,600.3 1075.7,604.4 1073.1,609.1 C1070.5,613.8 1070.5,617.9 1067.9,619.5 C1065.3,621.1 1063.2,619.5 1060.1,616.9 C1057.0,614.3 1054.9,610.1 1052.3,606.5 C1049.7,602.9 1049.2,602.3 1047.1,598.7 C1045.0,595.1 1042.9,593.0 1041.9,588.3 C1040.9,583.6 1041.4,580.5 1041.9,575.3 C1042.4,570.1 1044.0,567.5 1044.5,562.3 C1045.0,557.1 1045.5,554.1 1044.5,549.4 C1043.5,544.7 1042.5,541.6 1039.4,539.0 C1036.3,536.4 1032.6,535.9 1029.0,536.4 C1025.4,536.9 1021.7,539.0 1021.2,541.6 C1020.7,544.2 1024.3,545.8 1026.4,549.4 C1028.5,553.0 1030.0,554.5 1031.6,559.7 C1033.2,564.9 1034.2,569.6 1034.2,575.3 C1034.2,581.0 1034.2,586.2 1031.6,588.3 C1029.0,590.4 1026.4,586.2 1021.2,585.7 C1016.0,585.2 1010.1,585.8 1005.6,585.7 C1001.1,585.6 1002.0,586.1 998.6,585.4 C995.2,584.7 992.7,583.3 988.7,582.0 C984.7,580.7 983.4,580.8 978.8,578.8 C974.2,576.8 969.6,572.9 965.6,572.2 C961.6,571.5 959.7,573.5 959.0,575.5 C958.3,577.5 960.3,579.4 962.3,582.0 C964.3,584.6 967.3,586.0 968.9,588.7 C970.5,591.4 971.8,594.0 970.5,595.3 C969.2,596.6 966.6,597.3 962.3,595.3 C958.0,593.3 954.3,588.7 949.0,585.4 C943.7,582.1 939.8,581.4 935.8,578.8 C931.8,576.2 932.5,572.9 929.2,572.2 C925.9,571.5 923.9,575.5 919.3,575.5 C914.7,575.5 911.9,571.5 906.0,572.2 C900.1,572.9 895.5,575.5 889.6,578.8 C883.7,582.1 880.4,584.7 876.4,588.7 C872.4,592.7 871.7,594.6 869.7,598.6 C867.7,602.6 866.4,603.2 866.4,608.5 C866.4,613.8 868.4,619.0 869.7,625.0 C871.0,631.0 873.0,634.3 873.0,638.3 C873.0,642.3 872.3,642.4 869.7,645.0 C867.1,647.6 863.7,650.2 859.8,651.5 C855.9,652.8 849.4,650.2 850.0,651.5 C850.6,652.8 861.0,654.7 863.0,658.0 C865.0,661.3 861.8,664.0 859.8,668.0 C857.8,672.0 856.5,674.7 853.2,678.0 C849.9,681.3 848.5,681.3 843.3,684.5 C838.1,687.7 834.4,689.5 827.3,694.0 C820.2,698.5 812.9,701.1 807.6,707.0 C802.3,712.9 803.3,716.9 801.0,723.5 C798.7,730.1 802.5,737.4 796.0,740.0 C789.5,742.6 774.5,734.7 768.3,736.6 C762.1,738.5 769.6,744.5 765.0,749.7 C760.4,754.9 750.0,755.6 745.4,762.8 C740.8,770.0 747.3,781.5 742.0,785.7 C736.7,789.9 728.8,786.3 719.0,784.0 C709.2,781.7 702.4,774.6 693.0,774.0 C683.6,773.4 678.2,775.8 672.0,781.0 C665.8,786.2 665.8,793.2 662.0,800.0 C658.2,806.8 658.1,811.8 652.8,814.8 C647.5,817.8 642.5,816.2 635.6,814.8 C628.7,813.4 624.6,810.7 618.4,807.9 C612.2,805.1 611.5,804.1 604.6,801.0 C597.7,797.9 591.6,795.1 584.0,792.4 C576.4,789.7 573.7,787.6 566.8,787.3 C559.9,787.0 555.8,790.7 549.6,790.7 C543.4,790.7 540.6,785.2 535.8,787.3 C531.0,789.4 529.6,796.2 525.5,801.0 C521.4,805.8 520.0,807.3 515.2,811.4 C510.4,815.5 508.3,818.3 501.4,821.7 C494.5,825.1 488.4,828.6 480.8,828.6 C473.2,828.6 469.1,825.1 463.6,821.7 C458.1,818.3 458.8,814.2 453.3,811.4 C447.8,808.6 441.6,806.2 436.1,807.9 C430.6,809.6 431.3,816.2 425.8,820.0 C420.3,823.8 415.5,827.2 408.6,826.8 C401.7,826.4 396.9,822.0 391.4,818.2 C385.9,814.4 385.1,812.0 381.0,807.9 C376.9,803.8 376.2,802.4 370.7,797.6 C365.2,792.8 362.4,786.9 353.5,783.8 C344.6,780.7 337.0,784.2 326.0,782.1 C315.0,780.0 304.7,778.0 298.5,773.5 C292.3,769.0 294.7,765.3 295.0,759.8 C295.3,754.3 298.1,751.5 300.2,746.0 C302.3,740.5 305.7,736.3 305.4,732.2 C305.1,728.1 304.0,727.1 298.5,725.4 C293.0,723.7 285.4,725.0 277.8,723.6 C270.2,722.2 263.3,727.1 260.6,718.5 C257.9,709.9 264.1,688.3 264.1,680.6 C264.1,672.9 263.9,683.5 260.5,680.0 C257.1,676.5 250.7,667.5 247.3,662.9 C243.9,658.3 243.6,660.2 243.6,657.2 C243.6,654.2 247.3,650.8 247.3,647.8 C247.3,644.8 245.9,644.3 243.6,642.0 C241.3,639.7 240.2,637.5 236.0,636.4 C231.8,635.3 227.3,635.3 222.8,636.4 C218.3,637.5 216.3,639.3 213.3,642.0 C210.3,644.7 209.2,646.7 207.7,649.7 C206.2,652.7 208.5,654.6 205.8,657.2 C203.1,659.8 198.2,661.0 194.4,662.9 C190.6,664.8 189.9,666.3 186.9,666.7 C183.9,667.1 182.3,666.7 179.3,664.8 C176.3,662.9 174.8,660.6 171.8,657.2 C168.8,653.8 166.5,652.0 164.2,647.8 C161.9,643.6 162.3,640.2 160.4,636.4 C158.5,632.6 156.5,632.7 154.8,628.9 C153.1,625.1 152.0,620.8 152.0,617.6 C152.0,614.4 153.1,613.8 154.8,612.8 C156.5,611.8 158.1,611.5 160.4,612.8 C162.7,614.1 163.1,617.5 166.1,619.4 C169.1,621.3 172.6,622.7 175.6,622.3 C178.6,621.9 179.7,620.4 181.2,617.6 C182.7,614.8 181.2,610.8 183.1,608.1 C185.0,605.4 187.3,606.6 190.7,604.3 C194.1,602.0 197.3,600.9 200.1,596.8 C202.9,592.7 203.9,588.5 204.8,583.6 C205.7,578.7 205.4,574.9 204.8,572.2 C204.2,569.5 203.3,569.5 202.0,570.3 C200.7,571.1 199.7,572.6 198.2,576.0 C196.7,579.4 197.0,583.1 194.4,587.3 C191.8,591.5 189.5,594.0 185.0,596.8 C180.5,599.6 177.5,601.5 171.8,601.5 C166.1,601.5 161.2,599.6 156.7,596.8 C152.2,594.0 151.4,592.2 149.1,587.3 C146.8,582.4 145.3,577.5 145.3,572.2 C145.3,566.9 147.6,564.7 149.1,560.9 C150.6,557.1 149.9,555.8 152.9,553.3 C155.9,550.8 158.9,549.5 164.2,548.6 C169.5,547.7 174.0,548.0 179.3,548.6 C184.6,549.2 186.9,550.2 190.7,551.5 C194.5,552.8 200.1,557.1 198.2,555.2 C196.3,553.3 187.6,546.5 181.2,542.0 C174.8,537.5 171.0,536.0 166.1,532.6 C161.2,529.2 162.4,526.9 156.7,525.0 C151.0,523.1 142.9,525.0 137.8,523.1 C132.7,521.2 132.2,519.4 131.2,515.6 C130.2,511.8 130.9,507.2 133.0,504.2 C135.1,501.2 137.2,501.3 141.6,500.4 C146.0,499.5 152.0,501.4 154.8,499.5 C157.6,497.6 155.7,494.6 155.7,491.0 C155.7,487.4 154.6,485.4 154.8,481.6 C155.0,477.8 156.3,476.3 156.7,472.1 C157.1,467.9 157.8,465.0 156.7,460.8 C155.6,456.6 153.7,454.7 151.0,451.3 C148.3,447.9 147.2,444.5 143.4,443.8 C139.6,443.1 134.7,446.1 132.1,447.6 C129.5,449.1 130.6,449.0 130.2,451.3 C129.8,453.6 130.0,455.5 130.2,458.9 C130.4,462.3 131.6,465.3 131.2,468.3 C130.8,471.3 130.4,472.9 128.3,474.0 C126.2,475.1 122.7,475.5 120.8,474.0 C118.9,472.5 119.5,469.4 118.9,466.4 C118.3,463.4 119.4,461.2 117.9,458.9 C116.4,456.6 113.7,455.1 111.3,455.1 C108.9,455.1 107.6,456.6 105.7,458.9 C103.8,461.2 103.5,465.8 101.9,466.4 C100.3,467.0 97.8,465.4 97.7,462.0 C97.6,458.6 101.3,454.8 101.3,449.4 C101.3,444.0 98.8,440.4 97.7,435.0 C96.6,429.6 95.5,425.6 95.9,422.3 C96.3,419.0 96.3,422.7 99.5,418.7 C102.7,414.7 108.0,408.6 112.0,402.5 C116.0,396.4 116.4,391.2 119.3,388.0 C122.2,384.8 121.5,387.7 126.5,386.3 C131.5,384.9 144.5,382.8 144.5,381.0 C144.5,379.2 131.9,380.2 126.5,377.3 C121.1,374.4 120.0,371.6 117.5,366.5 C115.0,361.4 114.3,356.3 113.9,352.0 C113.5,347.7 112.5,348.6 115.7,345.0 C118.9,341.4 124.2,336.9 130.0,334.0 C135.8,331.1 141.5,333.3 144.5,330.5 C147.5,327.7 143.0,325.7 145.0,320.0 Z" fill="none" stroke="#000" stroke-width="3.1" stroke-linejoin="round"/>
<path d="M58.8,503.3 C66.3,496.3 75.1,496.2 85.2,497.7 C95.3,499.2 90.5,502.0 96.5,509.0 C102.5,516.0 99.7,517.0 107.8,524.0 C115.9,531.0 119.7,527.3 126.7,535.4 C133.7,543.5 133.3,544.4 134.2,554.2 C135.1,564.0 129.7,564.4 130.2,572.2 C130.7,580.0 133.3,578.3 135.9,583.6 C138.5,588.9 140.3,586.8 139.8,592.0 C139.3,597.2 141.7,598.5 134.2,603.0 C126.7,607.5 123.7,610.8 111.6,608.8 C99.5,606.8 100.1,605.1 89.0,595.6 C77.9,586.1 78.2,586.0 70.1,573.0 C62.0,560.0 62.3,559.8 58.8,546.7 C55.3,533.6 57.0,535.6 57.0,524.0 C57.0,512.4 51.3,510.3 58.8,503.3 Z" fill="none" stroke="#000" stroke-width="3.1" stroke-linejoin="round"/>
<path d="M1057.5,493.0 C1057.9,490.9 1059.1,490.2 1062.0,489.6 C1064.9,489.0 1068.7,489.5 1072.0,490.0 C1075.3,490.5 1077.5,490.2 1078.3,492.0 C1079.1,493.8 1078.1,496.9 1076.0,499.0 C1073.9,501.1 1071.2,502.4 1068.0,502.6 C1064.8,502.8 1062.2,501.9 1060.1,500.0 C1058.0,498.1 1057.1,495.1 1057.5,493.0 Z" fill="#fff" stroke="#000" stroke-width="2.4"/>
<rect x="40.5" y="40.5" width="1139.5" height="814.5" fill="none" stroke="#8a8a8a" stroke-width="1.2"/>
<line x1="81.7" y1="35.5" x2="81.7" y2="40.5" stroke="#333" stroke-width="1.3"/>
<line x1="81.7" y1="855" x2="81.7" y2="860" stroke="#333" stroke-width="1.3"/>
<text class="serif" x="81.7" y="29.5" font-size="29" font-weight="bold" text-anchor="middle">50° E</text>
<line x1="345.3" y1="35.5" x2="345.3" y2="40.5" stroke="#333" stroke-width="1.3"/>
<line x1="345.3" y1="855" x2="345.3" y2="860" stroke="#333" stroke-width="1.3"/>
<text class="serif" x="345.3" y="29.5" font-size="29" font-weight="bold" text-anchor="middle">55° E</text>
<line x1="609.2" y1="35.5" x2="609.2" y2="40.5" stroke="#333" stroke-width="1.3"/>
<line x1="609.2" y1="855" x2="609.2" y2="860" stroke="#333" stroke-width="1.3"/>
<text class="serif" x="609.2" y="29.5" font-size="29" font-weight="bold" text-anchor="middle">60° E</text>
<line x1="873.2" y1="35.5" x2="873.2" y2="40.5" stroke="#333" stroke-width="1.3"/>
<line x1="873.2" y1="855" x2="873.2" y2="860" stroke="#333" stroke-width="1.3"/>
<text class="serif" x="873.2" y="29.5" font-size="29" font-weight="bold" text-anchor="middle">65° E</text>
<line x1="1137.3" y1="35.5" x2="1137.3" y2="40.5" stroke="#333" stroke-width="1.3"/>
<line x1="1137.3" y1="855" x2="1137.3" y2="860" stroke="#333" stroke-width="1.3"/>
<text class="serif" x="1137.3" y="29.5" font-size="29" font-weight="bold" text-anchor="middle">70° E</text>
<line x1="35.5" y1="289" x2="40.5" y2="289" stroke="#333" stroke-width="1.3"/>
<line x1="1180" y1="289" x2="1185" y2="289" stroke="#333" stroke-width="1.3"/>
<text class="serif" transform="translate(28.7 289) rotate(-90)" font-size="29" font-weight="bold" text-anchor="middle">20° N</text>
<text class="serif" transform="translate(1211.3 289) rotate(-90)" font-size="29" font-weight="bold" text-anchor="middle">20° N</text>
<line x1="35.5" y1="553.3" x2="40.5" y2="553.3" stroke="#333" stroke-width="1.3"/>
<line x1="1180" y1="553.3" x2="1185" y2="553.3" stroke="#333" stroke-width="1.3"/>
<text class="serif" transform="translate(28.7 553.3) rotate(-90)" font-size="29" font-weight="bold" text-anchor="middle">15° N</text>
<text class="serif" transform="translate(1211.3 553.3) rotate(-90)" font-size="29" font-weight="bold" text-anchor="middle">15° N</text>
<line x1="35.5" y1="817" x2="40.5" y2="817" stroke="#333" stroke-width="1.3"/>
<line x1="1180" y1="817" x2="1185" y2="817" stroke="#333" stroke-width="1.3"/>
<text class="serif" transform="translate(28.7 817) rotate(-90)" font-size="29" font-weight="bold" text-anchor="middle">10° N</text>
<text class="serif" transform="translate(1211.3 817) rotate(-90)" font-size="29" font-weight="bold" text-anchor="middle">10° N</text>
<text class="serif" x="51.5" y="99" font-size="48" font-weight="bold">(a)</text>
<text class="serif" x="342.9" y="388.6" font-size="30.5" fill="#fff">Im3 (3.56 Ga)</text>
<text class="serif" x="586.3" y="548.6" font-size="30.5" fill="#fff">Im2 (3.49 Ga)</text>
<text class="serif" x="810.1" y="169.2" font-size="30.5" fill="#000">EIm (2.49 Ga)</text>
<text class="serif" x="966.3" y="251.6" font-size="30.5" fill="#000">Im1 (3.74 Ga)</text>
<line x1="853" y1="325" x2="897.1" y2="188.5" stroke="#000" stroke-width="2.2"/>
<polygon points="900.5,178 901.4,189.9 892.8,187.1" fill="#000"/>
<line x1="966" y1="422" x2="1048.7" y2="271.6" stroke="#000" stroke-width="2.2"/>
<polygon points="1054,262 1052.6,273.8 1044.8,269.5" fill="#000"/>
<rect x="1055" y="73.7" width="62.9" height="117.3" fill="#fff" stroke="#000" stroke-width="3"/>
<polygon points="1084,80 1060.5,153 1084,145.5 1110.8,155.3" fill="#fff" stroke="none"/>
<line x1="1084" y1="80" x2="1060.5" y2="153" stroke="#999" stroke-width="0.9"/>
<line x1="1085" y1="82" x2="1111" y2="155.5" stroke="#000" stroke-width="2.2"/>
<line x1="1062" y1="154" x2="1084" y2="145.5" stroke="#000" stroke-width="3"/>
<line x1="1084" y1="145.5" x2="1111" y2="155.5" stroke="#000" stroke-width="1.4"/>
<text class="sans" x="1086.7" y="184.5" font-size="33" text-anchor="middle">N</text>
<rect x="57" y="788.4" width="207.5" height="46.3" fill="#fff" stroke="#000" stroke-width="2.4"/>
<rect x="62.6" y="814.2" width="164.9" height="15" fill="#fff" stroke="#000" stroke-width="1.8"/>
<text class="sans" x="144.2" y="806.7" font-size="17.8" font-weight="bold" text-anchor="middle">100</text>
<text class="sans" x="230.6" y="829" font-size="17.5" font-weight="bold">Km</text>
<text class="serif" x="893.5" y="668.6" font-size="51" font-weight="bold">MI<tspan dy="4.5">_</tspan><tspan dy="-4.5">RGB</tspan></text>
<rect x="893.4" y="689.8" width="68.4" height="34.3" fill="#fb3232" stroke="#999" stroke-width="0.8"/>
<text class="serif" x="972.9" y="715.4" font-size="25.5" font-weight="bold">750nm/415nm</text>
<rect x="893.4" y="736.2" width="68.4" height="34.3" fill="#33fb33" stroke="#999" stroke-width="0.8"/>
<text class="serif" x="972.9" y="761.8" font-size="25.5" font-weight="bold">750nm/950nm</text>
<rect x="893.4" y="782.6" width="68.4" height="34.3" fill="#3333fb" stroke="#999" stroke-width="0.8"/>
<text class="serif" x="972.9" y="808.2" font-size="25.5" font-weight="bold">415nm/750nm</text>
<g>
<path d="M154.4,879.4 L321.3,1219.4" fill="none" stroke="#9a9a9a" stroke-width="1.0" stroke-opacity="1.0" stroke-linecap="round"/>
<path d="M146.0,879.4 C150.5,894.0 163.8,933.6 173.0,967.0 C182.2,1000.4 194.6,1056.0 200.9,1080.0 C207.2,1104.0 207.4,1100.5 210.7,1110.7 C214.0,1120.9 217.0,1132.2 220.5,1141.4 C224.0,1150.6 227.3,1158.4 231.6,1166.0 C235.9,1173.6 241.4,1181.0 246.3,1186.9 C251.2,1192.8 256.2,1196.2 261.1,1201.6 C266.0,1207.0 273.4,1216.4 275.8,1219.4" fill="none" stroke="#9a9a9a" stroke-width="1.0" stroke-opacity="1.0" stroke-linecap="round"/>
<path d="M162.4,904.4 C166.7,918.7 179.6,960.7 188.0,990.0 C196.4,1019.3 207.8,1063.0 212.6,1080.0 C217.4,1097.0 214.2,1085.5 216.9,1092.3 C219.7,1099.0 225.0,1112.3 229.1,1120.5 C233.2,1128.7 236.9,1134.8 241.4,1141.4 C245.9,1148.0 252.1,1155.0 256.2,1159.9 C260.3,1164.8 262.3,1166.8 266.0,1170.9 C269.7,1175.0 274.2,1179.1 278.3,1184.4 C282.4,1189.7 287.3,1197.1 290.6,1202.9 C293.9,1208.7 296.7,1216.7 297.9,1219.4" fill="none" stroke="#9a9a9a" stroke-width="1.0" stroke-opacity="1.0" stroke-linecap="round"/>
<path d="M215.5,1085.0 C217.4,1089.2 222.8,1101.5 227.0,1110.0 C231.2,1118.5 236.3,1128.7 241.0,1136.0 C245.7,1143.3 252.7,1151.0 255.0,1154.0" fill="none" stroke="#9a9a9a" stroke-width="1.0" stroke-opacity="1.0" stroke-linecap="round"/>
<line x1="243.9" y1="1100" x2="243.9" y2="1132" stroke="#c8c8c8" stroke-width="1"/>
<line x1="248.8" y1="1100" x2="248.8" y2="1168" stroke="#c8c8c8" stroke-width="1"/>
<line x1="259.2" y1="1132" x2="259.2" y2="1219" stroke="#c8c8c8" stroke-width="1"/>
<line x1="261.1" y1="1132" x2="261.1" y2="1219" stroke="#c8c8c8" stroke-width="1"/>
<line x1="227.0" y1="1085" x2="227.0" y2="1105" stroke="#c8c8c8" stroke-width="1"/>
<path d="M201.4,1042.3 C203.4,1048.6 208.6,1068.0 213.2,1080.0 C217.8,1092.0 223.8,1103.8 229.1,1114.4 C234.4,1125.1 239.6,1135.3 245.1,1143.9 C250.6,1152.5 259.4,1162.3 262.3,1166.0" fill="none" stroke="#b02020" stroke-width="1.3" stroke-opacity="1.0" stroke-linecap="round"/>
<path d="M184.8,1020.4 L196.8,1064.5" fill="none" stroke="#2828d0" stroke-width="1.3" stroke-opacity="1.0" stroke-linecap="round"/>
<path d="M163.4,984.3 C165.7,988.6 172.6,1001.5 177.0,1010.0 C181.4,1018.5 185.8,1027.2 190.0,1035.0 C194.2,1042.8 200.2,1052.9 202.2,1056.5" fill="none" stroke="#000" stroke-width="3.8" stroke-opacity="1.0" stroke-linecap="round"/>
<path d="M202.0,1059 h4 M204.0,1057 v4" stroke="#111" stroke-width="1"/>
<path d="M205.0,1064 h4 M207.0,1062 v4" stroke="#111" stroke-width="1"/>
<path d="M208.0,1068 h4 M210.0,1066 v4" stroke="#111" stroke-width="1"/>
<path d="M211.0,1072 h4 M213.0,1070 v4" stroke="#111" stroke-width="1"/>
<path d="M214.0,1076 h4 M216.0,1074 v4" stroke="#111" stroke-width="1"/>
<path d="M217.0,1082 h4 M219.0,1080 v4" stroke="#111" stroke-width="1"/>
<path d="M219.0,1087 h4 M221.0,1085 v4" stroke="#111" stroke-width="1"/>
<path d="M221.0,1090 h4 M223.0,1088 v4" stroke="#111" stroke-width="1"/>
<path d="M222.0,1093 h4 M224.0,1091 v4" stroke="#111" stroke-width="1"/>
<path d="M224.0,1097 h4 M226.0,1095 v4" stroke="#111" stroke-width="1"/>
<path d="M225.3,1100 h4 M227.3,1098 v4" stroke="#111" stroke-width="1"/>
<path d="M225.3,1105 h4 M227.3,1103 v4" stroke="#111" stroke-width="1"/>
<path d="M246.8,1111.3 h4 M248.8,1109.3 v4" stroke="#111" stroke-width="1"/>
<path d="M247.4,1132.2 h4 M249.4,1130.2 v4" stroke="#111" stroke-width="1"/>
<path d="M259.1,1153.1 h4 M261.1,1151.1 v4" stroke="#111" stroke-width="1"/>
<rect x="203.0" y="1060.0" width="4" height="4" fill="none" stroke="#c03030" stroke-width="0.9"/>
<rect x="207.0" y="1065.0" width="4" height="4" fill="none" stroke="#c03030" stroke-width="0.9"/>
<rect x="213.0" y="1073.0" width="4" height="4" fill="none" stroke="#c03030" stroke-width="0.9"/>
<rect x="221.6" y="1093.4" width="4" height="4" fill="none" stroke="#c03030" stroke-width="0.9"/>
<rect x="241.9" y="1109.3" width="4" height="4" fill="none" stroke="#c03030" stroke-width="0.9"/>
<rect x="246.8" y="1118.0" width="4" height="4" fill="none" stroke="#c03030" stroke-width="0.9"/>
<rect x="257.2" y="1150.5" width="4" height="4" fill="none" stroke="#c03030" stroke-width="0.9"/>
<rect x="55" y="879.4" width="272.3" height="340.2" fill="none" stroke="#4a4a4a" stroke-width="1.2"/>
<path d="M75.49,1219.6 v-2.8 M75.49,879.4 v2.8 M87.48,1219.6 v-2.8 M87.48,879.4 v2.8 M95.99,1219.6 v-2.8 M95.99,879.4 v2.8 M102.58,1219.6 v-2.8 M102.58,879.4 v2.8 M107.97,1219.6 v-2.8 M107.97,879.4 v2.8 M112.53,1219.6 v-2.8 M112.53,879.4 v2.8 M116.48,1219.6 v-2.8 M116.48,879.4 v2.8 M119.96,1219.6 v-2.8 M119.96,879.4 v2.8 M123.08,1219.6 v-5.5 M123.08,879.4 v5.5 M143.57,1219.6 v-2.8 M143.57,879.4 v2.8 M155.56,1219.6 v-2.8 M155.56,879.4 v2.8 M164.06,1219.6 v-2.8 M164.06,879.4 v2.8 M170.66,1219.6 v-2.8 M170.66,879.4 v2.8 M176.05,1219.6 v-2.8 M176.05,879.4 v2.8 M180.61,1219.6 v-2.8 M180.61,879.4 v2.8 M184.55,1219.6 v-2.8 M184.55,879.4 v2.8 M188.04,1219.6 v-2.8 M188.04,879.4 v2.8 M191.15,1219.6 v-5.5 M191.15,879.4 v5.5 M211.64,1219.6 v-2.8 M211.64,879.4 v2.8 M223.63,1219.6 v-2.8 M223.63,879.4 v2.8 M232.14,1219.6 v-2.8 M232.14,879.4 v2.8 M238.73,1219.6 v-2.8 M238.73,879.4 v2.8 M244.12,1219.6 v-2.8 M244.12,879.4 v2.8 M248.68,1219.6 v-2.8 M248.68,879.4 v2.8 M252.63,1219.6 v-2.8 M252.63,879.4 v2.8 M256.11,1219.6 v-2.8 M256.11,879.4 v2.8 M259.23,1219.6 v-5.5 M259.23,879.4 v5.5 M279.72,1219.6 v-2.8 M279.72,879.4 v2.8 M291.71,1219.6 v-2.8 M291.71,879.4 v2.8 M300.21,1219.6 v-2.8 M300.21,879.4 v2.8 M306.81,1219.6 v-2.8 M306.81,879.4 v2.8 M312.20,1219.6 v-2.8 M312.20,879.4 v2.8 M316.76,1219.6 v-2.8 M316.76,879.4 v2.8 M320.70,1219.6 v-2.8 M320.70,879.4 v2.8 M324.19,1219.6 v-2.8 M324.19,879.4 v2.8 M55,1199.12 h2.8 M327.3,1199.12 h-2.8 M55,1187.14 h2.8 M327.3,1187.14 h-2.8 M55,1178.64 h2.8 M327.3,1178.64 h-2.8 M55,1172.04 h2.8 M327.3,1172.04 h-2.8 M55,1166.65 h2.8 M327.3,1166.65 h-2.8 M55,1162.10 h2.8 M327.3,1162.10 h-2.8 M55,1158.15 h2.8 M327.3,1158.15 h-2.8 M55,1154.67 h2.8 M327.3,1154.67 h-2.8 M55,1151.56 h5.5 M327.3,1151.56 h-5.5 M55,1131.08 h2.8 M327.3,1131.08 h-2.8 M55,1119.10 h2.8 M327.3,1119.10 h-2.8 M55,1110.60 h2.8 M327.3,1110.60 h-2.8 M55,1104.00 h2.8 M327.3,1104.00 h-2.8 M55,1098.61 h2.8 M327.3,1098.61 h-2.8 M55,1094.06 h2.8 M327.3,1094.06 h-2.8 M55,1090.11 h2.8 M327.3,1090.11 h-2.8 M55,1086.63 h2.8 M327.3,1086.63 h-2.8 M55,1083.52 h5.5 M327.3,1083.52 h-5.5 M55,1063.04 h2.8 M327.3,1063.04 h-2.8 M55,1051.06 h2.8 M327.3,1051.06 h-2.8 M55,1042.56 h2.8 M327.3,1042.56 h-2.8 M55,1035.96 h2.8 M327.3,1035.96 h-2.8 M55,1030.57 h2.8 M327.3,1030.57 h-2.8 M55,1026.02 h2.8 M327.3,1026.02 h-2.8 M55,1022.07 h2.8 M327.3,1022.07 h-2.8 M55,1018.59 h2.8 M327.3,1018.59 h-2.8 M55,1015.48 h5.5 M327.3,1015.48 h-5.5 M55,995.00 h2.8 M327.3,995.00 h-2.8 M55,983.02 h2.8 M327.3,983.02 h-2.8 M55,974.52 h2.8 M327.3,974.52 h-2.8 M55,967.92 h2.8 M327.3,967.92 h-2.8 M55,962.53 h2.8 M327.3,962.53 h-2.8 M55,957.98 h2.8 M327.3,957.98 h-2.8 M55,954.03 h2.8 M327.3,954.03 h-2.8 M55,950.55 h2.8 M327.3,950.55 h-2.8 M55,947.44 h5.5 M327.3,947.44 h-5.5 M55,926.96 h2.8 M327.3,926.96 h-2.8 M55,914.98 h2.8 M327.3,914.98 h-2.8 M55,906.48 h2.8 M327.3,906.48 h-2.8 M55,899.88 h2.8 M327.3,899.88 h-2.8 M55,894.49 h2.8 M327.3,894.49 h-2.8 M55,889.94 h2.8 M327.3,889.94 h-2.8 M55,885.99 h2.8 M327.3,885.99 h-2.8 M55,882.51 h2.8 M327.3,882.51 h-2.8 " stroke="#4a4a4a" stroke-width="1"/>
<text font-family="Liberation Sans, Arial, sans-serif" x="47.5" y="1242.2" font-size="10" fill="#222">10<tspan font-size="7" dy="-5.5">-2</tspan></text>
<text font-family="Liberation Sans, Arial, sans-serif" x="115.6" y="1242.2" font-size="10" fill="#222">10<tspan font-size="7" dy="-5.5">-1</tspan></text>
<text font-family="Liberation Sans, Arial, sans-serif" x="183.7" y="1242.2" font-size="10" fill="#222">10<tspan font-size="7" dy="-5.5">0</tspan></text>
<text font-family="Liberation Sans, Arial, sans-serif" x="251.7" y="1242.2" font-size="10" fill="#222">10<tspan font-size="7" dy="-5.5">1</tspan></text>
<text font-family="Liberation Sans, Arial, sans-serif" x="319.8" y="1242.2" font-size="10" fill="#222">10<tspan font-size="7" dy="-5.5">2</tspan></text>
<text font-family="Liberation Sans, Arial, sans-serif" x="190.8" y="1262" font-size="10.7" text-anchor="middle" fill="#222">Diameter (km)</text>
<path d="M216.6,902.6 h4 M218.6,900.6 v4" stroke="#111" stroke-width="1"/>
<text font-family="Liberation Sans, Arial, sans-serif" x="231.9" y="906.3" font-size="7.6" fill="#222">plot1, area=1.03x10<tspan font-size="5" dy="-3">4</tspan><tspan dy="3"> km</tspan><tspan font-size="5" dy="-3">2</tspan></text>
<line x1="209.6" y1="917.6" x2="228.2" y2="917.6" stroke="#c03030" stroke-width="1"/>
<rect x="216.9" y="915.6" width="4" height="4" fill="#fff" stroke="#c03030" stroke-width="0.9"/>
<text font-family="Liberation Sans, Arial, sans-serif" x="231.9" y="921.1" font-size="7.6" fill="#222">26 craters, N(1)=1.27x10<tspan font-size="5" dy="-3">-2</tspan></text>
<line x1="209.6" y1="932.9" x2="228.2" y2="932.9" stroke="#3838d8" stroke-width="1"/>
<rect x="216.9" y="930.9" width="4" height="4" fill="#fff" stroke="#3838d8" stroke-width="0.9"/>
<text font-family="Liberation Sans, Arial, sans-serif" x="231.9" y="936.4" font-size="7.6" fill="#222">34 craters, N(1)=3.64x10<tspan font-size="5" dy="-3">-3</tspan></text>
<text font-family="Liberation Sans, Arial, sans-serif" x="71.6" y="1167.0" font-size="7.45" fill="#222">EF: Standard equilibrium (lunar)</text>
<text font-family="Liberation Sans, Arial, sans-serif" x="71.6" y="1182.0" font-size="7.45" fill="#222">PF: Moon, Neukum et al. (2001)</text>
<text font-family="Liberation Sans, Arial, sans-serif" x="71.6" y="1197.0" font-size="7.45" fill="#222">CF: Moon, Neukum et al.(2001)</text>
<text font-family="Liberation Serif, Times New Roman, serif" x="65.2" y="933.8" font-size="47" font-weight="bold">(b)</text>
<text font-family="Liberation Serif, Times New Roman, serif" x="245.4" y="982.4" font-size="36">Im1</text>
<text font-family="Liberation Sans, Arial, sans-serif" x="109" y="1041" font-size="12.8" fill="#2a2ad0">3.38</text>
<text font-family="Liberation Sans, Arial, sans-serif" x="138" y="1033" font-size="8.7" fill="#2a2ad0">+0.06</text>
<text font-family="Liberation Sans, Arial, sans-serif" x="139" y="1045.5" font-size="8.7" fill="#2a2ad0">-0.09</text>
<text font-family="Liberation Sans, Arial, sans-serif" x="162" y="1041" font-size="12.8" fill="#2a2ad0">Ga</text>
<text font-family="Liberation Sans, Arial, sans-serif" x="203" y="1039.5" font-size="12.8" fill="#b02020">3.74</text>
<text font-family="Liberation Sans, Arial, sans-serif" x="232" y="1031.5" font-size="8.7" fill="#b02020">+0.03</text>
<text font-family="Liberation Sans, Arial, sans-serif" x="233" y="1044.0" font-size="8.7" fill="#b02020">-0.04</text>
<text font-family="Liberation Sans, Arial, sans-serif" x="256" y="1039.5" font-size="12.8" fill="#b02020">Ga</text>
</g>
<g>
<path d="M449.3,879.4 L614.2,1219.4" fill="none" stroke="#9a9a9a" stroke-width="1.0" stroke-opacity="1.0" stroke-linecap="round"/>
<path d="M437.7,879.4 C441.4,892.8 452.4,933.1 459.7,960.0 C467.0,986.9 474.4,1016.8 481.7,1041.0 C489.0,1065.2 496.7,1086.7 503.7,1105.0 C510.7,1123.3 515.0,1134.7 523.7,1151.0 C532.4,1167.3 548.7,1191.2 555.7,1202.6 C562.7,1214.0 564.0,1216.6 565.7,1219.4" fill="none" stroke="#9a9a9a" stroke-width="1.0" stroke-opacity="1.0" stroke-linecap="round"/>
<path d="M441.2,879.4 C444.8,892.8 455.6,933.1 462.7,960.0 C469.8,986.9 476.5,1016.8 483.7,1041.0 C490.9,1065.2 498.4,1086.7 505.7,1105.0 C513.0,1123.3 518.4,1134.3 527.7,1151.0 C537.0,1167.7 554.3,1193.6 561.7,1205.0 C569.1,1216.4 570.4,1217.0 572.1,1219.4" fill="none" stroke="#9a9a9a" stroke-width="1.0" stroke-opacity="1.0" stroke-linecap="round"/>
<line x1="526.5" y1="1140" x2="526.5" y2="1175" stroke="#c8c8c8" stroke-width="1"/>
<line x1="548.5" y1="1140" x2="548.5" y2="1190" stroke="#c8c8c8" stroke-width="1"/>
<line x1="566.3" y1="1150" x2="566.3" y2="1219" stroke="#c8c8c8" stroke-width="1"/>
<line x1="570.5" y1="1170" x2="570.5" y2="1219" stroke="#c8c8c8" stroke-width="1"/>
<path d="M455.7,983.0 C457.7,987.5 463.4,1000.1 467.7,1010.0 C472.0,1019.9 479.4,1037.2 481.7,1042.6" fill="none" stroke="#000" stroke-width="4.2" stroke-opacity="1.0" stroke-linecap="round"/>
<path d="M481.7,1042.6 C482.7,1046.8 485.9,1060.1 487.7,1068.0 C489.5,1075.9 490.5,1083.7 492.7,1090.0 C494.9,1096.3 499.6,1103.1 501.0,1105.7" fill="none" stroke="#2a2ad0" stroke-width="5" stroke-opacity="1.0" stroke-linecap="round"/>
<path d="M504.3,1105.7 C506.2,1109.4 511.9,1120.5 515.7,1128.0 C519.5,1135.5 525.0,1147.2 526.9,1151.0" fill="none" stroke="#b02020" stroke-width="3" stroke-opacity="1.0" stroke-linecap="round"/>
<path d="M524.5,1155.8 h4 M526.5,1153.8 v4" stroke="#111" stroke-width="1"/>
<path d="M546.5,1164.5 h4 M548.5,1162.5 v4" stroke="#111" stroke-width="1"/>
<path d="M564.3,1176.8 h4 M566.3,1174.8 v4" stroke="#111" stroke-width="1"/>
<path d="M568.5,1197.8 h4 M570.5,1195.8 v4" stroke="#111" stroke-width="1"/>
<rect x="347.7" y="879.4" width="272.3" height="340.2" fill="none" stroke="#4a4a4a" stroke-width="1.2"/>
<path d="M368.19,1219.6 v-2.8 M368.19,879.4 v2.8 M380.18,1219.6 v-2.8 M380.18,879.4 v2.8 M388.69,1219.6 v-2.8 M388.69,879.4 v2.8 M395.28,1219.6 v-2.8 M395.28,879.4 v2.8 M400.67,1219.6 v-2.8 M400.67,879.4 v2.8 M405.23,1219.6 v-2.8 M405.23,879.4 v2.8 M409.18,1219.6 v-2.8 M409.18,879.4 v2.8 M412.66,1219.6 v-2.8 M412.66,879.4 v2.8 M415.77,1219.6 v-5.5 M415.77,879.4 v5.5 M436.27,1219.6 v-2.8 M436.27,879.4 v2.8 M448.26,1219.6 v-2.8 M448.26,879.4 v2.8 M456.76,1219.6 v-2.8 M456.76,879.4 v2.8 M463.36,1219.6 v-2.8 M463.36,879.4 v2.8 M468.75,1219.6 v-2.8 M468.75,879.4 v2.8 M473.31,1219.6 v-2.8 M473.31,879.4 v2.8 M477.25,1219.6 v-2.8 M477.25,879.4 v2.8 M480.74,1219.6 v-2.8 M480.74,879.4 v2.8 M483.85,1219.6 v-5.5 M483.85,879.4 v5.5 M504.34,1219.6 v-2.8 M504.34,879.4 v2.8 M516.33,1219.6 v-2.8 M516.33,879.4 v2.8 M524.84,1219.6 v-2.8 M524.84,879.4 v2.8 M531.43,1219.6 v-2.8 M531.43,879.4 v2.8 M536.82,1219.6 v-2.8 M536.82,879.4 v2.8 M541.38,1219.6 v-2.8 M541.38,879.4 v2.8 M545.33,1219.6 v-2.8 M545.33,879.4 v2.8 M548.81,1219.6 v-2.8 M548.81,879.4 v2.8 M551.92,1219.6 v-5.5 M551.92,879.4 v5.5 M572.42,1219.6 v-2.8 M572.42,879.4 v2.8 M584.41,1219.6 v-2.8 M584.41,879.4 v2.8 M592.91,1219.6 v-2.8 M592.91,879.4 v2.8 M599.51,1219.6 v-2.8 M599.51,879.4 v2.8 M604.90,1219.6 v-2.8 M604.90,879.4 v2.8 M609.46,1219.6 v-2.8 M609.46,879.4 v2.8 M613.40,1219.6 v-2.8 M613.40,879.4 v2.8 M616.89,1219.6 v-2.8 M616.89,879.4 v2.8 M347.7,1199.12 h2.8 M620.0,1199.12 h-2.8 M347.7,1187.14 h2.8 M620.0,1187.14 h-2.8 M347.7,1178.64 h2.8 M620.0,1178.64 h-2.8 M347.7,1172.04 h2.8 M620.0,1172.04 h-2.8 M347.7,1166.65 h2.8 M620.0,1166.65 h-2.8 M347.7,1162.10 h2.8 M620.0,1162.10 h-2.8 M347.7,1158.15 h2.8 M620.0,1158.15 h-2.8 M347.7,1154.67 h2.8 M620.0,1154.67 h-2.8 M347.7,1151.56 h5.5 M620.0,1151.56 h-5.5 M347.7,1131.08 h2.8 M620.0,1131.08 h-2.8 M347.7,1119.10 h2.8 M620.0,1119.10 h-2.8 M347.7,1110.60 h2.8 M620.0,1110.60 h-2.8 M347.7,1104.00 h2.8 M620.0,1104.00 h-2.8 M347.7,1098.61 h2.8 M620.0,1098.61 h-2.8 M347.7,1094.06 h2.8 M620.0,1094.06 h-2.8 M347.7,1090.11 h2.8 M620.0,1090.11 h-2.8 M347.7,1086.63 h2.8 M620.0,1086.63 h-2.8 M347.7,1083.52 h5.5 M620.0,1083.52 h-5.5 M347.7,1063.04 h2.8 M620.0,1063.04 h-2.8 M347.7,1051.06 h2.8 M620.0,1051.06 h-2.8 M347.7,1042.56 h2.8 M620.0,1042.56 h-2.8 M347.7,1035.96 h2.8 M620.0,1035.96 h-2.8 M347.7,1030.57 h2.8 M620.0,1030.57 h-2.8 M347.7,1026.02 h2.8 M620.0,1026.02 h-2.8 M347.7,1022.07 h2.8 M620.0,1022.07 h-2.8 M347.7,1018.59 h2.8 M620.0,1018.59 h-2.8 M347.7,1015.48 h5.5 M620.0,1015.48 h-5.5 M347.7,995.00 h2.8 M620.0,995.00 h-2.8 M347.7,983.02 h2.8 M620.0,983.02 h-2.8 M347.7,974.52 h2.8 M620.0,974.52 h-2.8 M347.7,967.92 h2.8 M620.0,967.92 h-2.8 M347.7,962.53 h2.8 M620.0,962.53 h-2.8 M347.7,957.98 h2.8 M620.0,957.98 h-2.8 M347.7,954.03 h2.8 M620.0,954.03 h-2.8 M347.7,950.55 h2.8 M620.0,950.55 h-2.8 M347.7,947.44 h5.5 M620.0,947.44 h-5.5 M347.7,926.96 h2.8 M620.0,926.96 h-2.8 M347.7,914.98 h2.8 M620.0,914.98 h-2.8 M347.7,906.48 h2.8 M620.0,906.48 h-2.8 M347.7,899.88 h2.8 M620.0,899.88 h-2.8 M347.7,894.49 h2.8 M620.0,894.49 h-2.8 M347.7,889.94 h2.8 M620.0,889.94 h-2.8 M347.7,885.99 h2.8 M620.0,885.99 h-2.8 M347.7,882.51 h2.8 M620.0,882.51 h-2.8 " stroke="#4a4a4a" stroke-width="1"/>
<text font-family="Liberation Sans, Arial, sans-serif" x="344.9" y="1242.2" font-size="10" fill="#222">0<tspan font-size="7" dy="-5.5">-2</tspan></text>
<text font-family="Liberation Sans, Arial, sans-serif" x="408.3" y="1242.2" font-size="10" fill="#222">10<tspan font-size="7" dy="-5.5">-1</tspan></text>
<text font-family="Liberation Sans, Arial, sans-serif" x="476.4" y="1242.2" font-size="10" fill="#222">10<tspan font-size="7" dy="-5.5">0</tspan></text>
<text font-family="Liberation Sans, Arial, sans-serif" x="544.4" y="1242.2" font-size="10" fill="#222">10<tspan font-size="7" dy="-5.5">1</tspan></text>
<text font-family="Liberation Sans, Arial, sans-serif" x="612.5" y="1242.2" font-size="10" fill="#222">10<tspan font-size="7" dy="-5.5">2</tspan></text>
<text font-family="Liberation Sans, Arial, sans-serif" x="483.5" y="1262" font-size="10.7" text-anchor="middle" fill="#222">Diameter (km)</text>
<path d="M505.8,902.6 h4 M507.8,900.6 v4" stroke="#111" stroke-width="1"/>
<text font-family="Liberation Sans, Arial, sans-serif" x="521.1" y="906.3" font-size="7.6" fill="#222">plot1, area=4.69x10<tspan font-size="5" dy="-3">4</tspan><tspan dy="3"> km</tspan><tspan font-size="5" dy="-3">2</tspan></text>
<line x1="498.5" y1="917.6" x2="516.4" y2="917.6" stroke="#c03030" stroke-width="1"/>
<rect x="505.4" y="915.6" width="4" height="4" fill="#fff" stroke="#c03030" stroke-width="0.9"/>
<text font-family="Liberation Sans, Arial, sans-serif" x="521.1" y="921.1" font-size="7.6" fill="#222">17 craters, N(1)=4.66x10<tspan font-size="5" dy="-3">-3</tspan></text>
<line x1="498.5" y1="932.9" x2="516.4" y2="932.9" stroke="#3838d8" stroke-width="1"/>
<rect x="505.4" y="930.9" width="4" height="4" fill="#fff" stroke="#3838d8" stroke-width="0.9"/>
<text font-family="Liberation Sans, Arial, sans-serif" x="521.1" y="936.4" font-size="7.6" fill="#222">152 craters, N(1)=3.20x10<tspan font-size="5" dy="-3">-3</tspan></text>
<text font-family="Liberation Sans, Arial, sans-serif" x="364.3" y="1167.0" font-size="7.45" fill="#222">EF: Standard equilibrium (lunar)</text>
<text font-family="Liberation Sans, Arial, sans-serif" x="364.3" y="1182.0" font-size="7.45" fill="#222">PF: Moon, Neukum et al. (2001)</text>
<text font-family="Liberation Sans, Arial, sans-serif" x="364.3" y="1197.0" font-size="7.45" fill="#222">CF: Moon, Neukum et al.(2001)</text>
<text font-family="Liberation Serif, Times New Roman, serif" x="352.8" y="933.8" font-size="47" font-weight="bold">(c)</text>
<text font-family="Liberation Serif, Times New Roman, serif" x="532" y="982.4" font-size="36">Im2</text>
<text font-family="Liberation Sans, Arial, sans-serif" x="485.2" y="1043.5" font-size="12.8" fill="#2a2ad0">3.29</text>
<text font-family="Liberation Sans, Arial, sans-serif" x="514.2" y="1035.5" font-size="8.7" fill="#2a2ad0">+0.05</text>
<text font-family="Liberation Sans, Arial, sans-serif" x="515.2" y="1048.0" font-size="8.7" fill="#2a2ad0">-0.07</text>
<text font-family="Liberation Sans, Arial, sans-serif" x="538.2" y="1043.5" font-size="12.8" fill="#2a2ad0">Ga</text>
<text font-family="Liberation Sans, Arial, sans-serif" x="507" y="1101.5" font-size="12.8" fill="#b02020">3.49</text>
<text font-family="Liberation Sans, Arial, sans-serif" x="536" y="1093.5" font-size="8.7" fill="#b02020">+0.06</text>
<text font-family="Liberation Sans, Arial, sans-serif" x="537" y="1106.0" font-size="8.7" fill="#b02020">-0.11</text>
<text font-family="Liberation Sans, Arial, sans-serif" x="560" y="1101.5" font-size="12.8" fill="#b02020">Ga</text>
</g>
<g>
<path d="M740.8,879.4 L907.1,1219.4" fill="none" stroke="#9a9a9a" stroke-width="1.0" stroke-opacity="1.0" stroke-linecap="round"/>
<path d="M729.6,879.4 C734.4,896.2 748.4,946.6 758.1,980.0 C767.8,1013.4 778.4,1053.0 787.6,1079.8 C796.9,1106.6 803.9,1122.1 813.6,1141.0 C823.3,1159.9 838.7,1179.9 845.9,1193.0 C853.2,1206.1 855.2,1215.0 857.1,1219.4" fill="none" stroke="#9a9a9a" stroke-width="1.0" stroke-opacity="1.0" stroke-linecap="round"/>
<path d="M734.4,879.4 C739.0,896.2 752.8,946.6 762.1,980.0 C771.4,1013.4 780.4,1053.0 790.1,1079.8 C799.8,1106.6 809.3,1122.1 820.1,1141.0 C830.9,1159.9 846.8,1179.9 855.1,1193.0 C863.4,1206.1 867.6,1215.0 870.1,1219.4" fill="none" stroke="#9a9a9a" stroke-width="1.0" stroke-opacity="1.0" stroke-linecap="round"/>
<line x1="812.3" y1="1105" x2="812.3" y2="1140" stroke="#c8c8c8" stroke-width="1"/>
<line x1="822.0" y1="1105" x2="822.0" y2="1150" stroke="#c8c8c8" stroke-width="1"/>
<line x1="831.7" y1="1110" x2="831.7" y2="1165" stroke="#c8c8c8" stroke-width="1"/>
<line x1="835.0" y1="1120" x2="835.0" y2="1180" stroke="#c8c8c8" stroke-width="1"/>
<line x1="845.3" y1="1130" x2="845.3" y2="1219" stroke="#c8c8c8" stroke-width="1"/>
<path d="M748.9,947.3 L784.5,1079.8" fill="none" stroke="#2a2ad0" stroke-width="1.3" stroke-opacity="1.0" stroke-linecap="round"/>
<path d="M790.9,1086.3 C793.8,1092.8 802.2,1112.7 808.1,1125.0 C814.0,1137.3 823.1,1154.2 826.1,1160.0" fill="none" stroke="#b02020" stroke-width="1.3" stroke-opacity="1.0" stroke-linecap="round"/>
<path d="M748.9,960.2 C752.4,968.5 763.1,989.0 770.1,1010.0 C777.1,1031.0 787.4,1073.6 790.9,1086.3" fill="none" stroke="#000" stroke-width="4.5" stroke-opacity="1.0" stroke-linecap="round"/>
<path d="M790.9,1086.3 C793.3,1091.1 801.1,1106.0 805.1,1115.0 C809.1,1124.0 813.4,1135.8 815.1,1140.0" fill="none" stroke="#b02020" stroke-width="2" stroke-opacity="1.0" stroke-linecap="round"/>
<path d="M810.3,1121.8 h4 M812.3,1119.8 v4" stroke="#111" stroke-width="1"/>
<path d="M820.0,1128.3 h4 M822.0,1126.3 v4" stroke="#111" stroke-width="1"/>
<path d="M829.7,1136.4 h4 M831.7,1134.4 v4" stroke="#111" stroke-width="1"/>
<path d="M833.0,1148.4 h4 M835.0,1146.4 v4" stroke="#111" stroke-width="1"/>
<path d="M843.3,1169.4 h4 M845.3,1167.4 v4" stroke="#111" stroke-width="1"/>
<rect x="821.3" y="1134.0" width="4" height="4" fill="none" stroke="#c03030" stroke-width="0.9"/>
<rect x="806.1" y="1118.0" width="4" height="4" fill="none" stroke="#c03030" stroke-width="0.9"/>
<rect x="640.1" y="879.4" width="272.3" height="340.2" fill="none" stroke="#4a4a4a" stroke-width="1.2"/>
<path d="M660.59,1219.6 v-2.8 M660.59,879.4 v2.8 M672.58,1219.6 v-2.8 M672.58,879.4 v2.8 M681.09,1219.6 v-2.8 M681.09,879.4 v2.8 M687.68,1219.6 v-2.8 M687.68,879.4 v2.8 M693.07,1219.6 v-2.8 M693.07,879.4 v2.8 M697.63,1219.6 v-2.8 M697.63,879.4 v2.8 M701.58,1219.6 v-2.8 M701.58,879.4 v2.8 M705.06,1219.6 v-2.8 M705.06,879.4 v2.8 M708.18,1219.6 v-5.5 M708.18,879.4 v5.5 M728.67,1219.6 v-2.8 M728.67,879.4 v2.8 M740.66,1219.6 v-2.8 M740.66,879.4 v2.8 M749.16,1219.6 v-2.8 M749.16,879.4 v2.8 M755.76,1219.6 v-2.8 M755.76,879.4 v2.8 M761.15,1219.6 v-2.8 M761.15,879.4 v2.8 M765.71,1219.6 v-2.8 M765.71,879.4 v2.8 M769.65,1219.6 v-2.8 M769.65,879.4 v2.8 M773.14,1219.6 v-2.8 M773.14,879.4 v2.8 M776.25,1219.6 v-5.5 M776.25,879.4 v5.5 M796.74,1219.6 v-2.8 M796.74,879.4 v2.8 M808.73,1219.6 v-2.8 M808.73,879.4 v2.8 M817.24,1219.6 v-2.8 M817.24,879.4 v2.8 M823.83,1219.6 v-2.8 M823.83,879.4 v2.8 M829.22,1219.6 v-2.8 M829.22,879.4 v2.8 M833.78,1219.6 v-2.8 M833.78,879.4 v2.8 M837.73,1219.6 v-2.8 M837.73,879.4 v2.8 M841.21,1219.6 v-2.8 M841.21,879.4 v2.8 M844.33,1219.6 v-5.5 M844.33,879.4 v5.5 M864.82,1219.6 v-2.8 M864.82,879.4 v2.8 M876.81,1219.6 v-2.8 M876.81,879.4 v2.8 M885.31,1219.6 v-2.8 M885.31,879.4 v2.8 M891.91,1219.6 v-2.8 M891.91,879.4 v2.8 M897.30,1219.6 v-2.8 M897.30,879.4 v2.8 M901.86,1219.6 v-2.8 M901.86,879.4 v2.8 M905.80,1219.6 v-2.8 M905.80,879.4 v2.8 M909.29,1219.6 v-2.8 M909.29,879.4 v2.8 M640.1,1199.12 h2.8 M912.4000000000001,1199.12 h-2.8 M640.1,1187.14 h2.8 M912.4000000000001,1187.14 h-2.8 M640.1,1178.64 h2.8 M912.4000000000001,1178.64 h-2.8 M640.1,1172.04 h2.8 M912.4000000000001,1172.04 h-2.8 M640.1,1166.65 h2.8 M912.4000000000001,1166.65 h-2.8 M640.1,1162.10 h2.8 M912.4000000000001,1162.10 h-2.8 M640.1,1158.15 h2.8 M912.4000000000001,1158.15 h-2.8 M640.1,1154.67 h2.8 M912.4000000000001,1154.67 h-2.8 M640.1,1151.56 h5.5 M912.4000000000001,1151.56 h-5.5 M640.1,1131.08 h2.8 M912.4000000000001,1131.08 h-2.8 M640.1,1119.10 h2.8 M912.4000000000001,1119.10 h-2.8 M640.1,1110.60 h2.8 M912.4000000000001,1110.60 h-2.8 M640.1,1104.00 h2.8 M912.4000000000001,1104.00 h-2.8 M640.1,1098.61 h2.8 M912.4000000000001,1098.61 h-2.8 M640.1,1094.06 h2.8 M912.4000000000001,1094.06 h-2.8 M640.1,1090.11 h2.8 M912.4000000000001,1090.11 h-2.8 M640.1,1086.63 h2.8 M912.4000000000001,1086.63 h-2.8 M640.1,1083.52 h5.5 M912.4000000000001,1083.52 h-5.5 M640.1,1063.04 h2.8 M912.4000000000001,1063.04 h-2.8 M640.1,1051.06 h2.8 M912.4000000000001,1051.06 h-2.8 M640.1,1042.56 h2.8 M912.4000000000001,1042.56 h-2.8 M640.1,1035.96 h2.8 M912.4000000000001,1035.96 h-2.8 M640.1,1030.57 h2.8 M912.4000000000001,1030.57 h-2.8 M640.1,1026.02 h2.8 M912.4000000000001,1026.02 h-2.8 M640.1,1022.07 h2.8 M912.4000000000001,1022.07 h-2.8 M640.1,1018.59 h2.8 M912.4000000000001,1018.59 h-2.8 M640.1,1015.48 h5.5 M912.4000000000001,1015.48 h-5.5 M640.1,995.00 h2.8 M912.4000000000001,995.00 h-2.8 M640.1,983.02 h2.8 M912.4000000000001,983.02 h-2.8 M640.1,974.52 h2.8 M912.4000000000001,974.52 h-2.8 M640.1,967.92 h2.8 M912.4000000000001,967.92 h-2.8 M640.1,962.53 h2.8 M912.4000000000001,962.53 h-2.8 M640.1,957.98 h2.8 M912.4000000000001,957.98 h-2.8 M640.1,954.03 h2.8 M912.4000000000001,954.03 h-2.8 M640.1,950.55 h2.8 M912.4000000000001,950.55 h-2.8 M640.1,947.44 h5.5 M912.4000000000001,947.44 h-5.5 M640.1,926.96 h2.8 M912.4000000000001,926.96 h-2.8 M640.1,914.98 h2.8 M912.4000000000001,914.98 h-2.8 M640.1,906.48 h2.8 M912.4000000000001,906.48 h-2.8 M640.1,899.88 h2.8 M912.4000000000001,899.88 h-2.8 M640.1,894.49 h2.8 M912.4000000000001,894.49 h-2.8 M640.1,889.94 h2.8 M912.4000000000001,889.94 h-2.8 M640.1,885.99 h2.8 M912.4000000000001,885.99 h-2.8 M640.1,882.51 h2.8 M912.4000000000001,882.51 h-2.8 " stroke="#4a4a4a" stroke-width="1"/>
<text font-family="Liberation Sans, Arial, sans-serif" x="637.3" y="1242.2" font-size="10" fill="#222">0<tspan font-size="7" dy="-5.5">-2</tspan></text>
<text font-family="Liberation Sans, Arial, sans-serif" x="700.7" y="1242.2" font-size="10" fill="#222">10<tspan font-size="7" dy="-5.5">-1</tspan></text>
<text font-family="Liberation Sans, Arial, sans-serif" x="768.8" y="1242.2" font-size="10" fill="#222">10<tspan font-size="7" dy="-5.5">0</tspan></text>
<text font-family="Liberation Sans, Arial, sans-serif" x="836.8" y="1242.2" font-size="10" fill="#222">10<tspan font-size="7" dy="-5.5">1</tspan></text>
<text font-family="Liberation Sans, Arial, sans-serif" x="904.9" y="1242.2" font-size="10" fill="#222">10<tspan font-size="7" dy="-5.5">2</tspan></text>
<text font-family="Liberation Sans, Arial, sans-serif" x="775.9" y="1262" font-size="10.7" text-anchor="middle" fill="#222">Diameter (km)</text>
<path d="M794.2,902.6 h4 M796.2,900.6 v4" stroke="#111" stroke-width="1"/>
<text font-family="Liberation Sans, Arial, sans-serif" x="810" y="906.3" font-size="7.6" fill="#222">plot1, area=1.81x10<tspan font-size="5" dy="-3">4</tspan><tspan dy="3"> km</tspan><tspan font-size="5" dy="-3">2</tspan></text>
<line x1="787.4" y1="917.6" x2="805.9" y2="917.6" stroke="#c03030" stroke-width="1"/>
<rect x="794.6" y="915.6" width="4" height="4" fill="#fff" stroke="#c03030" stroke-width="0.9"/>
<text font-family="Liberation Sans, Arial, sans-serif" x="810" y="921.1" font-size="7.6" fill="#222">11 craters, N(1)=5.79x10<tspan font-size="5" dy="-3">-3</tspan></text>
<line x1="787.4" y1="932.9" x2="805.9" y2="932.9" stroke="#3838d8" stroke-width="1"/>
<rect x="794.6" y="930.9" width="4" height="4" fill="#fff" stroke="#3838d8" stroke-width="0.9"/>
<text font-family="Liberation Sans, Arial, sans-serif" x="810" y="936.4" font-size="7.6" fill="#222">1063 craters, N(1)=3.15x10<tspan font-size="5" dy="-3">-3</tspan></text>
<text font-family="Liberation Sans, Arial, sans-serif" x="656.7" y="1167.0" font-size="7.45" fill="#222">EF: Standard equilibrium (lunar)</text>
<text font-family="Liberation Sans, Arial, sans-serif" x="656.7" y="1182.0" font-size="7.45" fill="#222">PF: Moon, Neukum et al. (2001)</text>
<text font-family="Liberation Sans, Arial, sans-serif" x="656.7" y="1197.0" font-size="7.45" fill="#222">CF: Moon, Neukum et al.(2001)</text>
<text font-family="Liberation Serif, Times New Roman, serif" x="645.6" y="933.8" font-size="47" font-weight="bold">(d)</text>
<text font-family="Liberation Serif, Times New Roman, serif" x="819.4" y="982.4" font-size="36">Im3</text>
<text font-family="Liberation Sans, Arial, sans-serif" x="673.3" y="968.5" font-size="12.8" fill="#2a2ad0">3.28</text>
<text font-family="Liberation Sans, Arial, sans-serif" x="702.3" y="960.5" font-size="8.7" fill="#2a2ad0">+0.02</text>
<text font-family="Liberation Sans, Arial, sans-serif" x="703.3" y="973.0" font-size="8.7" fill="#2a2ad0">-0.03</text>
<text font-family="Liberation Sans, Arial, sans-serif" x="726.3" y="968.5" font-size="12.8" fill="#2a2ad0">Ga</text>
<text font-family="Liberation Sans, Arial, sans-serif" x="794.6" y="1080.5" font-size="12.8" fill="#b02020">3.56</text>
<text font-family="Liberation Sans, Arial, sans-serif" x="823.6" y="1072.5" font-size="8.7" fill="#b02020">+0.06</text>
<text font-family="Liberation Sans, Arial, sans-serif" x="824.6" y="1085.0" font-size="8.7" fill="#b02020">-0.10</text>
<text font-family="Liberation Sans, Arial, sans-serif" x="847.6" y="1080.5" font-size="12.8" fill="#b02020">Ga</text>
</g>
<g>
<path d="M1032.8,879.4 L1201.0,1219.4" fill="none" stroke="#9a9a9a" stroke-width="1.0" stroke-opacity="1.0" stroke-linecap="round"/>
<path d="M1019.9,879.4 C1023.8,894.5 1035.2,939.8 1043.3,970.0 C1051.4,1000.2 1059.3,1032.4 1068.3,1060.4 C1077.3,1088.4 1088.1,1116.4 1097.3,1138.0 C1106.5,1159.6 1116.5,1176.4 1123.3,1190.0 C1130.1,1203.6 1135.8,1214.5 1138.3,1219.4" fill="none" stroke="#9a9a9a" stroke-width="1.0" stroke-opacity="1.0" stroke-linecap="round"/>
<line x1="1097.9" y1="1120" x2="1097.9" y2="1150" stroke="#c8c8c8" stroke-width="1"/>
<line x1="1107.2" y1="1125" x2="1107.2" y2="1155" stroke="#c8c8c8" stroke-width="1"/>
<line x1="1114.7" y1="1130" x2="1114.7" y2="1160" stroke="#c8c8c8" stroke-width="1"/>
<line x1="1131.5" y1="1135" x2="1131.5" y2="1170" stroke="#c8c8c8" stroke-width="1"/>
<line x1="1141.2" y1="1140" x2="1141.2" y2="1185" stroke="#c8c8c8" stroke-width="1"/>
<line x1="1161.5" y1="1150" x2="1161.5" y2="1200" stroke="#c8c8c8" stroke-width="1"/>
<line x1="1174.5" y1="1160" x2="1174.5" y2="1219" stroke="#c8c8c8" stroke-width="1"/>
<path d="M1068.3,1062.0 C1070.8,1070.8 1078.1,1100.0 1083.3,1115.0 C1088.5,1130.0 1094.2,1140.6 1099.3,1152.0 C1104.4,1163.4 1111.3,1178.1 1113.7,1183.3" fill="none" stroke="#b02020" stroke-width="1.3" stroke-opacity="1.0" stroke-linecap="round"/>
<path d="M1068.3,1062.0 C1070.0,1067.5 1075.0,1084.0 1078.3,1095.0 C1081.5,1106.0 1086.2,1122.8 1087.8,1128.3" fill="none" stroke="#b02020" stroke-width="5" stroke-opacity="1.0" stroke-linecap="round"/>
<path d="M1129.5,1148.7 h4 M1131.5,1146.7 v4" stroke="#111" stroke-width="1"/>
<path d="M1139.2,1157.4 h4 M1141.2,1155.4 v4" stroke="#111" stroke-width="1"/>
<path d="M1159.5,1169.4 h4 M1161.5,1167.4 v4" stroke="#111" stroke-width="1"/>
<path d="M1172.5,1189.8 h4 M1174.5,1187.8 v4" stroke="#111" stroke-width="1"/>
<rect x="1095.9" y="1130.5" width="4" height="4" fill="none" stroke="#c03030" stroke-width="0.9"/>
<rect x="1105.2" y="1135.0" width="4" height="4" fill="none" stroke="#c03030" stroke-width="0.9"/>
<rect x="1112.7" y="1140.2" width="4" height="4" fill="none" stroke="#c03030" stroke-width="0.9"/>
<rect x="933.3" y="879.4" width="272.3" height="340.2" fill="none" stroke="#4a4a4a" stroke-width="1.2"/>
<path d="M953.79,1219.6 v-2.8 M953.79,879.4 v2.8 M965.78,1219.6 v-2.8 M965.78,879.4 v2.8 M974.29,1219.6 v-2.8 M974.29,879.4 v2.8 M980.88,1219.6 v-2.8 M980.88,879.4 v2.8 M986.27,1219.6 v-2.8 M986.27,879.4 v2.8 M990.83,1219.6 v-2.8 M990.83,879.4 v2.8 M994.78,1219.6 v-2.8 M994.78,879.4 v2.8 M998.26,1219.6 v-2.8 M998.26,879.4 v2.8 M1001.38,1219.6 v-5.5 M1001.38,879.4 v5.5 M1021.87,1219.6 v-2.8 M1021.87,879.4 v2.8 M1033.86,1219.6 v-2.8 M1033.86,879.4 v2.8 M1042.36,1219.6 v-2.8 M1042.36,879.4 v2.8 M1048.96,1219.6 v-2.8 M1048.96,879.4 v2.8 M1054.35,1219.6 v-2.8 M1054.35,879.4 v2.8 M1058.91,1219.6 v-2.8 M1058.91,879.4 v2.8 M1062.85,1219.6 v-2.8 M1062.85,879.4 v2.8 M1066.34,1219.6 v-2.8 M1066.34,879.4 v2.8 M1069.45,1219.6 v-5.5 M1069.45,879.4 v5.5 M1089.94,1219.6 v-2.8 M1089.94,879.4 v2.8 M1101.93,1219.6 v-2.8 M1101.93,879.4 v2.8 M1110.44,1219.6 v-2.8 M1110.44,879.4 v2.8 M1117.03,1219.6 v-2.8 M1117.03,879.4 v2.8 M1122.42,1219.6 v-2.8 M1122.42,879.4 v2.8 M1126.98,1219.6 v-2.8 M1126.98,879.4 v2.8 M1130.93,1219.6 v-2.8 M1130.93,879.4 v2.8 M1134.41,1219.6 v-2.8 M1134.41,879.4 v2.8 M1137.53,1219.6 v-5.5 M1137.53,879.4 v5.5 M1158.02,1219.6 v-2.8 M1158.02,879.4 v2.8 M1170.01,1219.6 v-2.8 M1170.01,879.4 v2.8 M1178.51,1219.6 v-2.8 M1178.51,879.4 v2.8 M1185.11,1219.6 v-2.8 M1185.11,879.4 v2.8 M1190.50,1219.6 v-2.8 M1190.50,879.4 v2.8 M1195.06,1219.6 v-2.8 M1195.06,879.4 v2.8 M1199.00,1219.6 v-2.8 M1199.00,879.4 v2.8 M1202.49,1219.6 v-2.8 M1202.49,879.4 v2.8 M933.3,1199.12 h2.8 M1205.6,1199.12 h-2.8 M933.3,1187.14 h2.8 M1205.6,1187.14 h-2.8 M933.3,1178.64 h2.8 M1205.6,1178.64 h-2.8 M933.3,1172.04 h2.8 M1205.6,1172.04 h-2.8 M933.3,1166.65 h2.8 M1205.6,1166.65 h-2.8 M933.3,1162.10 h2.8 M1205.6,1162.10 h-2.8 M933.3,1158.15 h2.8 M1205.6,1158.15 h-2.8 M933.3,1154.67 h2.8 M1205.6,1154.67 h-2.8 M933.3,1151.56 h5.5 M1205.6,1151.56 h-5.5 M933.3,1131.08 h2.8 M1205.6,1131.08 h-2.8 M933.3,1119.10 h2.8 M1205.6,1119.10 h-2.8 M933.3,1110.60 h2.8 M1205.6,1110.60 h-2.8 M933.3,1104.00 h2.8 M1205.6,1104.00 h-2.8 M933.3,1098.61 h2.8 M1205.6,1098.61 h-2.8 M933.3,1094.06 h2.8 M1205.6,1094.06 h-2.8 M933.3,1090.11 h2.8 M1205.6,1090.11 h-2.8 M933.3,1086.63 h2.8 M1205.6,1086.63 h-2.8 M933.3,1083.52 h5.5 M1205.6,1083.52 h-5.5 M933.3,1063.04 h2.8 M1205.6,1063.04 h-2.8 M933.3,1051.06 h2.8 M1205.6,1051.06 h-2.8 M933.3,1042.56 h2.8 M1205.6,1042.56 h-2.8 M933.3,1035.96 h2.8 M1205.6,1035.96 h-2.8 M933.3,1030.57 h2.8 M1205.6,1030.57 h-2.8 M933.3,1026.02 h2.8 M1205.6,1026.02 h-2.8 M933.3,1022.07 h2.8 M1205.6,1022.07 h-2.8 M933.3,1018.59 h2.8 M1205.6,1018.59 h-2.8 M933.3,1015.48 h5.5 M1205.6,1015.48 h-5.5 M933.3,995.00 h2.8 M1205.6,995.00 h-2.8 M933.3,983.02 h2.8 M1205.6,983.02 h-2.8 M933.3,974.52 h2.8 M1205.6,974.52 h-2.8 M933.3,967.92 h2.8 M1205.6,967.92 h-2.8 M933.3,962.53 h2.8 M1205.6,962.53 h-2.8 M933.3,957.98 h2.8 M1205.6,957.98 h-2.8 M933.3,954.03 h2.8 M1205.6,954.03 h-2.8 M933.3,950.55 h2.8 M1205.6,950.55 h-2.8 M933.3,947.44 h5.5 M1205.6,947.44 h-5.5 M933.3,926.96 h2.8 M1205.6,926.96 h-2.8 M933.3,914.98 h2.8 M1205.6,914.98 h-2.8 M933.3,906.48 h2.8 M1205.6,906.48 h-2.8 M933.3,899.88 h2.8 M1205.6,899.88 h-2.8 M933.3,894.49 h2.8 M1205.6,894.49 h-2.8 M933.3,889.94 h2.8 M1205.6,889.94 h-2.8 M933.3,885.99 h2.8 M1205.6,885.99 h-2.8 M933.3,882.51 h2.8 M1205.6,882.51 h-2.8 " stroke="#4a4a4a" stroke-width="1"/>
<text font-family="Liberation Sans, Arial, sans-serif" x="930.5" y="1242.2" font-size="10" fill="#222">0<tspan font-size="7" dy="-5.5">-2</tspan></text>
<text font-family="Liberation Sans, Arial, sans-serif" x="993.9" y="1242.2" font-size="10" fill="#222">10<tspan font-size="7" dy="-5.5">-1</tspan></text>
<text font-family="Liberation Sans, Arial, sans-serif" x="1062.0" y="1242.2" font-size="10" fill="#222">10<tspan font-size="7" dy="-5.5">0</tspan></text>
<text font-family="Liberation Sans, Arial, sans-serif" x="1130.0" y="1242.2" font-size="10" fill="#222">10<tspan font-size="7" dy="-5.5">1</tspan></text>
<text font-family="Liberation Sans, Arial, sans-serif" x="1198.1" y="1242.2" font-size="10" fill="#222">10<tspan font-size="7" dy="-5.5">2</tspan></text>
<text font-family="Liberation Sans, Arial, sans-serif" x="1069.1" y="1262" font-size="10.7" text-anchor="middle" fill="#222">Diameter (km)</text>
<path d="M1094.9,902.6 h4 M1096.9,900.6 v4" stroke="#111" stroke-width="1"/>
<text font-family="Liberation Sans, Arial, sans-serif" x="1110.4" y="906.3" font-size="7.6" fill="#222">plot1, area=3.65x10<tspan font-size="5" dy="-3">4</tspan><tspan dy="3"> km</tspan><tspan font-size="5" dy="-3">2</tspan></text>
<line x1="1088.8" y1="917.6" x2="1105.6" y2="917.6" stroke="#c03030" stroke-width="1"/>
<rect x="1095.2" y="915.6" width="4" height="4" fill="#fff" stroke="#c03030" stroke-width="0.9"/>
<text font-family="Liberation Sans, Arial, sans-serif" x="1110.4" y="921.1" font-size="7.6" fill="#222">70 craters, N(1)=2.08x10<tspan font-size="5" dy="-3">-3</tspan></text>
<text font-family="Liberation Sans, Arial, sans-serif" x="949.9" y="1167.0" font-size="7.45" fill="#222">EF: Standard equilibrium (lunar)</text>
<text font-family="Liberation Sans, Arial, sans-serif" x="949.9" y="1182.0" font-size="7.45" fill="#222">PF: Moon, Neukum et al. (2001)</text>
<text font-family="Liberation Sans, Arial, sans-serif" x="949.9" y="1197.0" font-size="7.45" fill="#222">CF: Moon, Neukum et al.(2001)</text>
<text font-family="Liberation Serif, Times New Roman, serif" x="942.6" y="933.8" font-size="47" font-weight="bold">(e)</text>
<text font-family="Liberation Serif, Times New Roman, serif" x="1104.6" y="982.4" font-size="36">EIm</text>
<text font-family="Liberation Sans, Arial, sans-serif" x="1071.6" y="1059.5" font-size="12.8" fill="#b02020">2.49</text>
<text font-family="Liberation Sans, Arial, sans-serif" x="1100.6" y="1051.5" font-size="8.7" fill="#b02020">+0.28</text>
<text font-family="Liberation Sans, Arial, sans-serif" x="1101.6" y="1064.0" font-size="8.7" fill="#b02020">-0.28</text>
<text font-family="Liberation Sans, Arial, sans-serif" x="1124.6" y="1059.5" font-size="12.8" fill="#b02020">Ga</text>
</g>
<text font-family="Liberation Sans, Arial, sans-serif" x="50.5" y="887.4" font-size="10" text-anchor="end" fill="#222">10<tspan font-size="7" dy="-5.5">0</tspan></text>
<text font-family="Liberation Sans, Arial, sans-serif" x="50.5" y="951.4" font-size="10" text-anchor="end" fill="#222">10<tspan font-size="7" dy="-5.5">-1</tspan></text>
<text font-family="Liberation Sans, Arial, sans-serif" x="50.5" y="1019.5" font-size="10" text-anchor="end" fill="#222">10<tspan font-size="7" dy="-5.5">-2</tspan></text>
<text font-family="Liberation Sans, Arial, sans-serif" x="50.5" y="1087.5" font-size="10" text-anchor="end" fill="#222">10<tspan font-size="7" dy="-5.5">-3</tspan></text>
<text font-family="Liberation Sans, Arial, sans-serif" x="50.5" y="1155.6" font-size="10" text-anchor="end" fill="#222">10<tspan font-size="7" dy="-5.5">-4</tspan></text>
<text font-family="Liberation Sans, Arial, sans-serif" x="50.5" y="1220.6" font-size="10" text-anchor="end" fill="#222">10<tspan font-size="7" dy="-5.5">-5</tspan></text>
<text font-family="Liberation Sans, Arial, sans-serif" transform="translate(21.8 1049) rotate(-90)" font-size="10.4" text-anchor="middle" fill="#222">Cumulative Crater Frequency (km<tspan font-size="7" dy="-5">-2</tspan><tspan dy="5">)</tspan></text>
</svg>
</body></html>
